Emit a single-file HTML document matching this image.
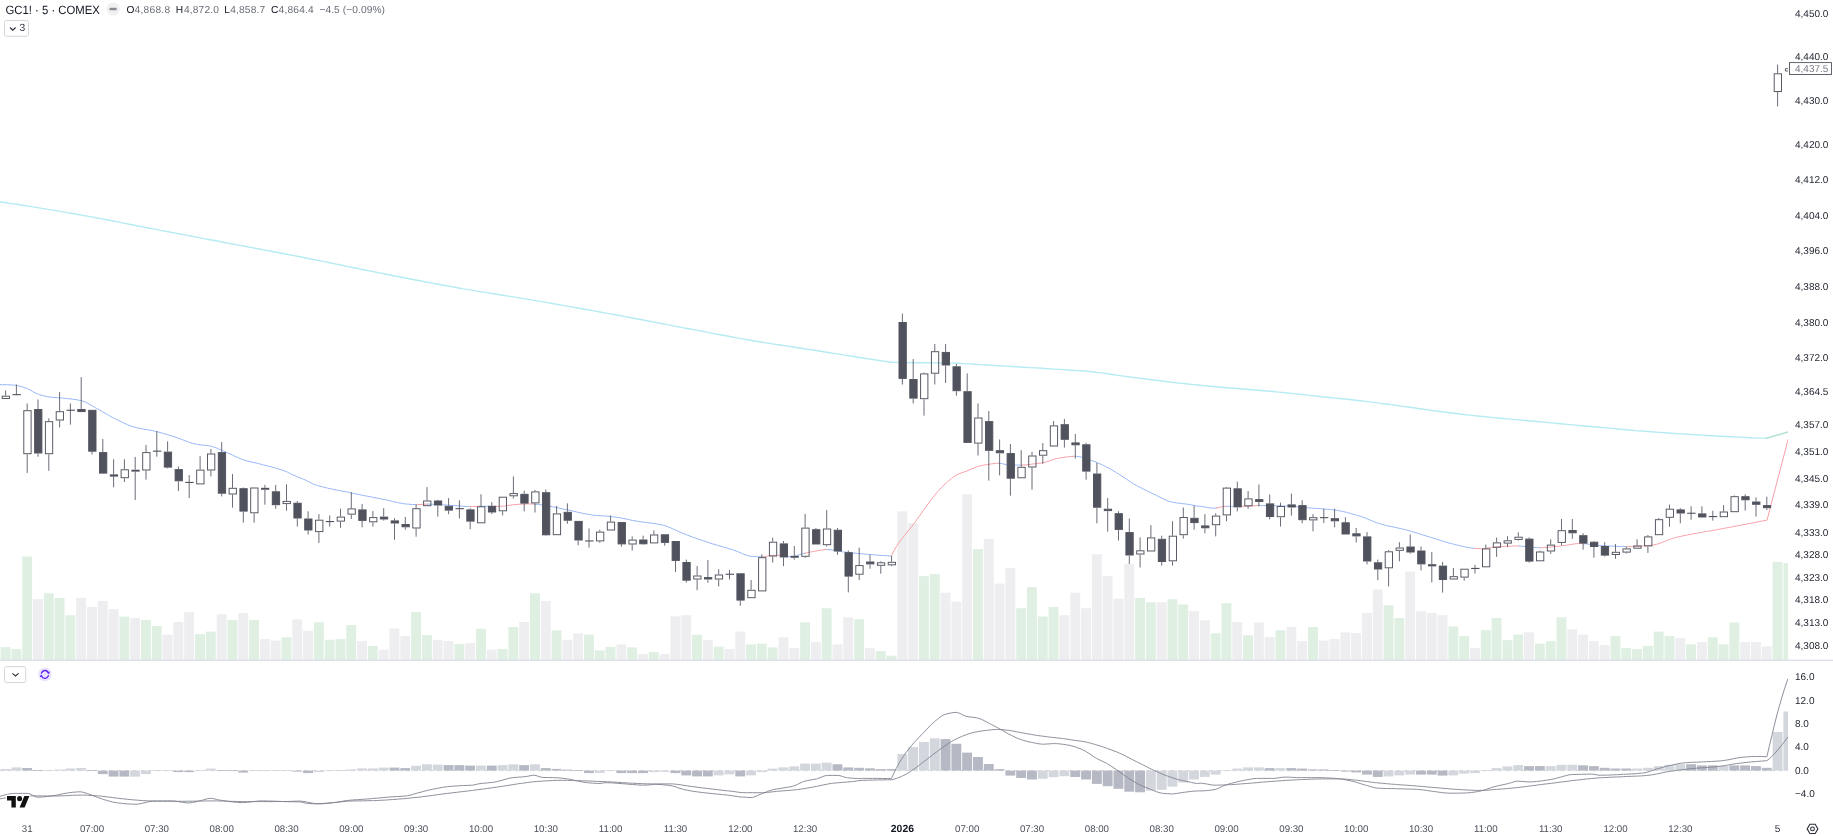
<!DOCTYPE html><html><head><meta charset="utf-8"><title>GC1! chart</title>
<style>
html,body{margin:0;padding:0;background:#fff;}
body{width:1833px;height:836px;overflow:hidden;position:relative;font-family:"Liberation Sans",sans-serif;}
svg{position:absolute;left:0;top:0;display:block;will-change:transform}
svg text{font-family:"Liberation Sans",sans-serif;text-rendering:geometricPrecision}
.w{stroke-width:0.85}
.ax{font-size:10px;fill:#1e222d}
.tm{font-size:9.7px;fill:#4c4f5a;text-anchor:middle}
</style></head><body>
<svg width="1833" height="836" viewBox="0 0 1833 836">
<defs><clipPath id="cp"><rect x="0" y="0" width="1788" height="660"/></clipPath><clipPath id="cp2"><rect x="0" y="661" width="1788" height="157"/></clipPath></defs>
<g clip-path="url(#cp)">
<rect x="0.6" y="647.1" width="9.9" height="12.9" fill="#dff0e3"/>
<rect x="11.4" y="649.1" width="9.9" height="10.9" fill="#dff0e3"/>
<rect x="22.2" y="556.5" width="9.9" height="103.5" fill="#dff0e3"/>
<rect x="33" y="599.2" width="9.9" height="60.8" fill="#eeeef1"/>
<rect x="43.8" y="593.2" width="9.9" height="66.8" fill="#dff0e3"/>
<rect x="54.6" y="597.9" width="9.9" height="62.1" fill="#dff0e3"/>
<rect x="65.4" y="615.2" width="9.9" height="44.8" fill="#dff0e3"/>
<rect x="76.2" y="597.9" width="9.9" height="62.1" fill="#eeeef1"/>
<rect x="87" y="607" width="9.9" height="53" fill="#eeeef1"/>
<rect x="97.8" y="600.9" width="9.9" height="59.1" fill="#eeeef1"/>
<rect x="108.6" y="609.2" width="9.9" height="50.8" fill="#eeeef1"/>
<rect x="119.4" y="616.5" width="9.9" height="43.5" fill="#dff0e3"/>
<rect x="130.2" y="618" width="9.9" height="42" fill="#eeeef1"/>
<rect x="141" y="620" width="9.9" height="40" fill="#dff0e3"/>
<rect x="151.8" y="626" width="9.9" height="34" fill="#dff0e3"/>
<rect x="162.6" y="634.6" width="9.9" height="25.4" fill="#eeeef1"/>
<rect x="173.4" y="622" width="9.9" height="38" fill="#eeeef1"/>
<rect x="184.2" y="612.2" width="9.9" height="47.8" fill="#eeeef1"/>
<rect x="195.1" y="634.1" width="9.9" height="25.9" fill="#dff0e3"/>
<rect x="205.9" y="631.6" width="9.9" height="28.4" fill="#dff0e3"/>
<rect x="216.7" y="614.2" width="9.9" height="45.8" fill="#eeeef1"/>
<rect x="227.5" y="620" width="9.9" height="40" fill="#dff0e3"/>
<rect x="238.3" y="613" width="9.9" height="47" fill="#eeeef1"/>
<rect x="249.1" y="620" width="9.9" height="40" fill="#dff0e3"/>
<rect x="259.9" y="639.1" width="9.9" height="20.9" fill="#eeeef1"/>
<rect x="270.7" y="640.6" width="9.9" height="19.4" fill="#eeeef1"/>
<rect x="281.5" y="637.3" width="9.9" height="22.7" fill="#dff0e3"/>
<rect x="292.3" y="619.5" width="9.9" height="40.5" fill="#eeeef1"/>
<rect x="303.1" y="630.8" width="9.9" height="29.2" fill="#eeeef1"/>
<rect x="313.9" y="622.3" width="9.9" height="37.7" fill="#dff0e3"/>
<rect x="324.7" y="639.8" width="9.9" height="20.2" fill="#dff0e3"/>
<rect x="335.5" y="639.1" width="9.9" height="20.9" fill="#dff0e3"/>
<rect x="346.3" y="625" width="9.9" height="35" fill="#dff0e3"/>
<rect x="357.1" y="641.1" width="9.9" height="18.9" fill="#eeeef1"/>
<rect x="367.9" y="645.9" width="9.9" height="14.1" fill="#dff0e3"/>
<rect x="378.7" y="649.6" width="9.9" height="10.4" fill="#eeeef1"/>
<rect x="389.5" y="628.5" width="9.9" height="31.5" fill="#eeeef1"/>
<rect x="400.3" y="636.1" width="9.9" height="23.9" fill="#eeeef1"/>
<rect x="411.1" y="612" width="9.9" height="48" fill="#dff0e3"/>
<rect x="422" y="635.1" width="9.9" height="24.9" fill="#dff0e3"/>
<rect x="432.8" y="639.8" width="9.9" height="20.2" fill="#eeeef1"/>
<rect x="443.6" y="641.1" width="9.9" height="18.9" fill="#eeeef1"/>
<rect x="454.4" y="644.1" width="9.9" height="15.9" fill="#dff0e3"/>
<rect x="465.2" y="643.1" width="9.9" height="16.9" fill="#eeeef1"/>
<rect x="476" y="628.8" width="9.9" height="31.2" fill="#dff0e3"/>
<rect x="486.8" y="649.6" width="9.9" height="10.4" fill="#eeeef1"/>
<rect x="497.6" y="649.1" width="9.9" height="10.9" fill="#dff0e3"/>
<rect x="508.4" y="627" width="9.9" height="33" fill="#dff0e3"/>
<rect x="519.2" y="622" width="9.9" height="38" fill="#eeeef1"/>
<rect x="530" y="593.2" width="9.9" height="66.8" fill="#dff0e3"/>
<rect x="540.8" y="600.9" width="9.9" height="59.1" fill="#eeeef1"/>
<rect x="551.6" y="630.3" width="9.9" height="29.7" fill="#dff0e3"/>
<rect x="562.4" y="639.8" width="9.9" height="20.2" fill="#eeeef1"/>
<rect x="573.2" y="633.3" width="9.9" height="26.7" fill="#eeeef1"/>
<rect x="584" y="634.6" width="9.9" height="25.4" fill="#dff0e3"/>
<rect x="594.8" y="650.4" width="9.9" height="9.6" fill="#dff0e3"/>
<rect x="605.6" y="646.9" width="9.9" height="13.1" fill="#dff0e3"/>
<rect x="616.4" y="644.4" width="9.9" height="15.6" fill="#eeeef1"/>
<rect x="627.2" y="647.4" width="9.9" height="12.6" fill="#dff0e3"/>
<rect x="638.1" y="654.1" width="9.9" height="5.9" fill="#eeeef1"/>
<rect x="648.9" y="652.1" width="9.9" height="7.9" fill="#dff0e3"/>
<rect x="659.7" y="654.1" width="9.9" height="5.9" fill="#eeeef1"/>
<rect x="670.5" y="616.3" width="9.9" height="43.7" fill="#eeeef1"/>
<rect x="681.3" y="615.2" width="9.9" height="44.8" fill="#eeeef1"/>
<rect x="692.1" y="634.8" width="9.9" height="25.2" fill="#dff0e3"/>
<rect x="702.9" y="640.1" width="9.9" height="19.9" fill="#eeeef1"/>
<rect x="713.7" y="646.6" width="9.9" height="13.4" fill="#dff0e3"/>
<rect x="724.5" y="648.9" width="9.9" height="11.1" fill="#eeeef1"/>
<rect x="735.3" y="631.6" width="9.9" height="28.4" fill="#eeeef1"/>
<rect x="746.1" y="644.4" width="9.9" height="15.6" fill="#dff0e3"/>
<rect x="756.9" y="643.6" width="9.9" height="16.4" fill="#dff0e3"/>
<rect x="767.7" y="647.4" width="9.9" height="12.6" fill="#dff0e3"/>
<rect x="778.5" y="637.3" width="9.9" height="22.7" fill="#eeeef1"/>
<rect x="789.3" y="648.1" width="9.9" height="11.9" fill="#eeeef1"/>
<rect x="800.1" y="622.3" width="9.9" height="37.7" fill="#dff0e3"/>
<rect x="810.9" y="642.1" width="9.9" height="17.9" fill="#eeeef1"/>
<rect x="821.7" y="608.2" width="9.9" height="51.8" fill="#dff0e3"/>
<rect x="832.5" y="644.4" width="9.9" height="15.6" fill="#eeeef1"/>
<rect x="843.3" y="617.3" width="9.9" height="42.7" fill="#eeeef1"/>
<rect x="854.2" y="619.3" width="9.9" height="40.7" fill="#dff0e3"/>
<rect x="865" y="648.1" width="9.9" height="11.9" fill="#eeeef1"/>
<rect x="875.8" y="651.1" width="9.9" height="8.9" fill="#dff0e3"/>
<rect x="886.6" y="655.7" width="9.9" height="4.3" fill="#dff0e3"/>
<rect x="897.4" y="511.3" width="9.9" height="148.7" fill="#eeeef1"/>
<rect x="908.2" y="523.3" width="9.9" height="136.7" fill="#eeeef1"/>
<rect x="919" y="576.1" width="9.9" height="83.9" fill="#dff0e3"/>
<rect x="929.8" y="574.1" width="9.9" height="85.9" fill="#dff0e3"/>
<rect x="940.6" y="592.7" width="9.9" height="67.3" fill="#eeeef1"/>
<rect x="951.4" y="601.7" width="9.9" height="58.3" fill="#eeeef1"/>
<rect x="962.2" y="494.3" width="9.9" height="165.7" fill="#eeeef1"/>
<rect x="973" y="549.1" width="9.9" height="110.9" fill="#dff0e3"/>
<rect x="983.8" y="539" width="9.9" height="121" fill="#eeeef1"/>
<rect x="994.6" y="583.6" width="9.9" height="76.4" fill="#eeeef1"/>
<rect x="1005.4" y="568.1" width="9.9" height="91.9" fill="#eeeef1"/>
<rect x="1016.2" y="608.2" width="9.9" height="51.8" fill="#dff0e3"/>
<rect x="1027" y="587.1" width="9.9" height="72.9" fill="#dff0e3"/>
<rect x="1037.8" y="616.5" width="9.9" height="43.5" fill="#dff0e3"/>
<rect x="1048.6" y="607" width="9.9" height="53" fill="#dff0e3"/>
<rect x="1059.4" y="615.2" width="9.9" height="44.8" fill="#eeeef1"/>
<rect x="1070.3" y="592.7" width="9.9" height="67.3" fill="#eeeef1"/>
<rect x="1081.1" y="608.2" width="9.9" height="51.8" fill="#eeeef1"/>
<rect x="1091.9" y="554.3" width="9.9" height="105.7" fill="#eeeef1"/>
<rect x="1102.7" y="576.1" width="9.9" height="83.9" fill="#eeeef1"/>
<rect x="1113.5" y="598.7" width="9.9" height="61.3" fill="#eeeef1"/>
<rect x="1124.3" y="564.1" width="9.9" height="95.9" fill="#eeeef1"/>
<rect x="1135.1" y="597.9" width="9.9" height="62.1" fill="#dff0e3"/>
<rect x="1145.9" y="602.2" width="9.9" height="57.8" fill="#dff0e3"/>
<rect x="1156.7" y="602.2" width="9.9" height="57.8" fill="#eeeef1"/>
<rect x="1167.5" y="599.2" width="9.9" height="60.8" fill="#dff0e3"/>
<rect x="1178.3" y="604.5" width="9.9" height="55.5" fill="#dff0e3"/>
<rect x="1189.1" y="611.2" width="9.9" height="48.8" fill="#eeeef1"/>
<rect x="1199.9" y="620.3" width="9.9" height="39.7" fill="#eeeef1"/>
<rect x="1210.7" y="633.3" width="9.9" height="26.7" fill="#dff0e3"/>
<rect x="1221.5" y="603.2" width="9.9" height="56.8" fill="#dff0e3"/>
<rect x="1232.3" y="622" width="9.9" height="38" fill="#eeeef1"/>
<rect x="1243.1" y="635.3" width="9.9" height="24.7" fill="#dff0e3"/>
<rect x="1253.9" y="622.5" width="9.9" height="37.5" fill="#eeeef1"/>
<rect x="1264.7" y="637.1" width="9.9" height="22.9" fill="#eeeef1"/>
<rect x="1275.5" y="630.3" width="9.9" height="29.7" fill="#dff0e3"/>
<rect x="1286.4" y="627" width="9.9" height="33" fill="#eeeef1"/>
<rect x="1297.2" y="641.1" width="9.9" height="18.9" fill="#eeeef1"/>
<rect x="1308" y="627" width="9.9" height="33" fill="#dff0e3"/>
<rect x="1318.8" y="640.6" width="9.9" height="19.4" fill="#eeeef1"/>
<rect x="1329.6" y="639.1" width="9.9" height="20.9" fill="#eeeef1"/>
<rect x="1340.4" y="632.3" width="9.9" height="27.7" fill="#eeeef1"/>
<rect x="1351.2" y="633.1" width="9.9" height="26.9" fill="#eeeef1"/>
<rect x="1362" y="613" width="9.9" height="47" fill="#eeeef1"/>
<rect x="1372.8" y="589.4" width="9.9" height="70.6" fill="#eeeef1"/>
<rect x="1383.6" y="605.2" width="9.9" height="54.8" fill="#dff0e3"/>
<rect x="1394.4" y="618" width="9.9" height="42" fill="#dff0e3"/>
<rect x="1405.2" y="571.6" width="9.9" height="88.4" fill="#eeeef1"/>
<rect x="1416" y="611.2" width="9.9" height="48.8" fill="#eeeef1"/>
<rect x="1426.8" y="613" width="9.9" height="47" fill="#eeeef1"/>
<rect x="1437.6" y="615.2" width="9.9" height="44.8" fill="#eeeef1"/>
<rect x="1448.4" y="626.3" width="9.9" height="33.7" fill="#dff0e3"/>
<rect x="1459.2" y="636.1" width="9.9" height="23.9" fill="#dff0e3"/>
<rect x="1470" y="648.1" width="9.9" height="11.9" fill="#eeeef1"/>
<rect x="1480.8" y="630.1" width="9.9" height="29.9" fill="#dff0e3"/>
<rect x="1491.6" y="618" width="9.9" height="42" fill="#dff0e3"/>
<rect x="1502.5" y="640.1" width="9.9" height="19.9" fill="#dff0e3"/>
<rect x="1513.3" y="634.6" width="9.9" height="25.4" fill="#dff0e3"/>
<rect x="1524.1" y="632.3" width="9.9" height="27.7" fill="#eeeef1"/>
<rect x="1534.9" y="643.6" width="9.9" height="16.4" fill="#dff0e3"/>
<rect x="1545.7" y="641.1" width="9.9" height="18.9" fill="#dff0e3"/>
<rect x="1556.5" y="617.3" width="9.9" height="42.7" fill="#dff0e3"/>
<rect x="1567.3" y="629.3" width="9.9" height="30.7" fill="#eeeef1"/>
<rect x="1578.1" y="634.6" width="9.9" height="25.4" fill="#eeeef1"/>
<rect x="1588.9" y="641.1" width="9.9" height="18.9" fill="#eeeef1"/>
<rect x="1599.7" y="645.1" width="9.9" height="14.9" fill="#eeeef1"/>
<rect x="1610.5" y="636.1" width="9.9" height="23.9" fill="#dff0e3"/>
<rect x="1621.3" y="648.1" width="9.9" height="11.9" fill="#dff0e3"/>
<rect x="1632.1" y="649.1" width="9.9" height="10.9" fill="#dff0e3"/>
<rect x="1642.9" y="645.9" width="9.9" height="14.1" fill="#dff0e3"/>
<rect x="1653.7" y="631.6" width="9.9" height="28.4" fill="#dff0e3"/>
<rect x="1664.5" y="636.1" width="9.9" height="23.9" fill="#dff0e3"/>
<rect x="1675.3" y="638.1" width="9.9" height="21.9" fill="#eeeef1"/>
<rect x="1686.1" y="644.4" width="9.9" height="15.6" fill="#dff0e3"/>
<rect x="1696.9" y="642.1" width="9.9" height="17.9" fill="#eeeef1"/>
<rect x="1707.8" y="637.3" width="9.9" height="22.7" fill="#dff0e3"/>
<rect x="1718.6" y="644.4" width="9.9" height="15.6" fill="#dff0e3"/>
<rect x="1729.4" y="622.5" width="9.9" height="37.5" fill="#dff0e3"/>
<rect x="1740.2" y="642.1" width="9.9" height="17.9" fill="#eeeef1"/>
<rect x="1751" y="642.1" width="9.9" height="17.9" fill="#eeeef1"/>
<rect x="1761.8" y="646.4" width="9.9" height="13.6" fill="#eeeef1"/>
<rect x="1772.6" y="561.8" width="9.9" height="98.2" fill="#dff0e3"/>
<rect x="1783.4" y="563" width="9.9" height="97" fill="#dff0e3"/>
</g>
<g clip-path="url(#cp)" fill="none" stroke-linejoin="round" stroke-linecap="round">
<polyline stroke="#b6ebf3" stroke-width="1.45" points="0,201.8 6,202.7 12,203.6 18,204.5 24,205.5 30,206.4 36,207.4 42,208.4 48,209.4 54,210.4 60,211.4 66,212.4 72,213.5 78,214.5 84,215.6 85.3,215.8 90,216.6 96,217.8 102,218.9 108,220 114,221.2 120,222.4 126,223.6 132,224.8 138,226 144,227.1 150,228.3 150.6,228.4 156,229.4 162,230.6 168,231.7 174,232.9 180,234 186,235.1 192,236.3 198,237.4 204,238.6 210,239.7 216,240.8 222,242 225.8,242.7 228,243.1 234,244.3 240,245.4 246,246.5 252,247.6 258,248.8 264,249.9 270,251 276,252.2 282,253.3 288,254.5 294,255.6 300,256.8 301.1,257 306,258 312,259.2 318,260.4 324,261.6 330,262.8 336,264.1 342,265.3 348,266.6 354,267.8 360,269 366,270.2 372,271.4 376.4,272.3 378,272.6 384,273.8 390,275 396,276.2 402,277.3 408,278.5 414,279.7 420,280.8 426,282 432,283.1 438,284.2 444,285.3 450,286.4 456,287.5 460,288.2 462,288.6 468,289.6 474,290.6 480,291.6 486,292.6 492,293.5 498,294.5 504,295.5 510,296.4 516,297.4 522,298.4 528,299.4 534,300.4 535.3,300.6 540,301.4 546,302.4 552,303.5 558,304.5 564,305.6 570,306.6 576,307.7 582,308.7 588,309.8 594,310.9 600,312 606,313.1 610.6,313.9 612,314.2 618,315.3 624,316.4 630,317.5 636,318.7 642,319.8 648,321 654,322.1 660,323.3 666,324.4 672,325.6 678,326.7 684,327.9 685.8,328.2 690,329 696,330.1 702,331.3 708,332.4 714,333.6 720,334.7 726,335.8 732,337 738,338.1 744,339.1 750,340.2 753.6,340.8 756,341.2 762,342.2 768,343.1 774,344.1 780,345 786,345.9 792,346.8 798,347.7 804,348.7 810,349.6 811.3,349.8 816,350.5 822,351.5 828,352.5 834,353.4 840,354.4 846,355.4 852,356.3 858,357.3 861.5,357.8 864,358.2 870,359.1 876,360 882,360.9 888,361.8 891.6,362.3 897.6,362.4 903.6,362.5 907.5,362.6 909.6,362.6 915.6,362.7 921.6,362.8 927.6,362.8 933.6,362.9 939.6,362.9 945.6,363 950.2,363.1 951.6,363.1 957.6,363.3 963.6,363.6 969.6,363.9 975.6,364.2 981.6,364.6 987.6,365 993.6,365.4 999.6,365.8 1000.4,365.8 1005.6,366.1 1011.6,366.5 1017.6,366.8 1023.6,367.2 1029.6,367.6 1035.6,367.9 1041.6,368.3 1047.6,368.7 1050.6,368.9 1053.6,369.1 1059.6,369.4 1065.6,369.8 1071.6,370.2 1077.6,370.6 1083.6,371 1088.2,371.4 1089.6,371.5 1095.6,372.2 1101.6,372.9 1107.6,373.8 1113.6,374.7 1119.6,375.6 1125.6,376.4 1125.8,376.4 1131.6,377.2 1137.6,377.9 1143.6,378.7 1149.6,379.5 1155.6,380.3 1161.6,381 1167.6,381.7 1173.6,382.4 1176,382.7 1179.6,383.1 1185.6,383.7 1191.6,384.4 1197.6,385 1203.6,385.6 1209.6,386.2 1215.6,386.7 1221.6,387.3 1226.2,387.7 1227.6,387.8 1233.6,388.3 1239.6,388.8 1245.6,389.3 1251.6,389.8 1257.6,390.3 1263.6,390.8 1269.6,391.3 1275.6,391.8 1276.4,391.9 1281.6,392.4 1287.6,393 1293.6,393.6 1299.6,394.3 1305.6,394.9 1311.6,395.6 1317.6,396.2 1323.6,396.9 1326.6,397.2 1329.6,397.5 1335.6,398.1 1341.6,398.7 1347.6,399.3 1353.6,400 1359.6,400.7 1360,400.7 1365.6,401.4 1371.6,402.1 1377.6,402.9 1383.6,403.7 1389.6,404.5 1390.2,404.6 1395.6,405.3 1401.6,406.1 1407.6,407 1413.6,407.8 1419.6,408.7 1425.6,409.5 1431.6,410.4 1437.6,411.2 1443.6,412 1449.6,412.8 1455.6,413.5 1461.6,414.3 1465.5,414.7 1467.6,414.9 1473.6,415.6 1479.6,416.2 1485.6,416.8 1491.6,417.4 1497.6,418 1503.6,418.5 1509.6,419.1 1515.6,419.6 1521.6,420.1 1527.6,420.7 1533.6,421.2 1539.6,421.8 1540.8,421.9 1545.6,422.3 1551.6,422.9 1557.6,423.5 1563.6,424 1569.6,424.6 1575.6,425.1 1581.6,425.7 1587.6,426.2 1590.9,426.5 1593.6,426.7 1599.6,427.3 1605.6,427.9 1611.6,428.4 1617.6,429 1623.6,429.5 1629.6,430 1635.6,430.6 1641.1,431 1641.6,431 1647.6,431.5 1653.6,432 1659.6,432.4 1665.6,432.8 1671.6,433.2 1677.6,433.6 1683.6,434 1689.6,434.4 1691.3,434.5 1695.6,434.8 1701.6,435.1 1707.6,435.5 1713.6,435.8 1719.6,436.2 1725.6,436.5 1731.6,436.8 1737.6,437.1 1741.5,437.3 1743.6,437.4 1749.6,437.7 1755.6,437.9 1761.6,438.1 1766.6,438.3"/>
<polyline stroke="#b3e0d4" stroke-width="1.45" points="1766.6,438.3 1788,432"/>
<polyline stroke="#98b7f7" stroke-width="1" points="0,384.6 2.5,384.7 5,384.7 7.5,384.8 10,384.9 12.5,385 14.4,385.1 15,385.2 17.5,385.5 20,386.2 22.5,386.9 25,387.8 26.3,388.2 27.5,388.7 30,389.9 32.5,391.4 35,392.8 37.5,393.9 38.3,394.2 40,394.8 42.5,395.5 45,396.1 47.5,396.7 50,397.1 50.2,397.1 52.5,397.3 55,397.5 57.5,397.7 60,397.9 62.5,398.1 64.6,398.3 65,398.3 67.5,398.6 70,398.9 72.5,399.2 75,399.5 77.5,399.9 80,400.4 81.3,400.7 82.5,401 85,401.9 87.5,403.2 90,404.6 92.5,406 95,407.5 95.7,407.9 97.5,408.8 100,410.2 102.5,411.7 105,413.2 107.5,414.6 110,416.1 112.5,417.4 114.8,418.6 115,418.7 117.5,419.9 120,421.2 122.5,422.4 125,423.6 127.5,424.7 130,425.7 132.5,426.6 134,427 135,427.3 137.5,427.9 140,428.4 142.5,428.9 145,429.3 147.5,429.7 150,430.2 152.5,430.6 155,431.2 155.5,431.3 157.5,431.8 160,432.5 162.5,433.2 165,433.9 167.5,434.7 170,435.5 172.5,436.3 175,437.1 177,437.7 177.5,437.9 180,438.8 182.5,439.7 185,440.7 187.5,441.6 190,442.5 192.5,443.3 195,444 196.2,444.2 197.5,444.4 200,444.8 202.5,445.1 205,445.3 207.5,445.6 210,446 210.5,446.1 212.5,446.6 215,447.4 217.5,448.4 220,449.5 222.5,450.6 224.9,451.6 225,451.7 227.5,452.8 230,453.9 232.5,455.1 235,456.3 237.5,457.4 240,458.5 242.5,459.5 244,460 245,460.3 247.5,461 250,461.7 252.5,462.3 255,462.8 257.5,463.4 260,464 262.5,464.6 263.2,464.8 265,465.3 267.5,465.9 270,466.6 272.5,467.2 275,467.9 277.5,468.6 280,469.4 282.5,470.2 285,471.1 287.1,472 287.5,472.1 290,473.5 292.5,474.7 295,475.7 297.5,476.8 300,477.8 302.5,478.8 305,479.9 306,480.3 307.5,481.1 310,482.4 312.5,483.7 313.9,484.3 315,484.6 317.5,485.4 320,486.2 322.5,486.8 325,487.5 327.5,488.1 330,488.6 332.5,489.2 335,489.7 337.5,490.2 340,490.7 342.5,491.1 345,491.6 347.5,492.1 349.8,492.6 350,492.7 352.5,493.2 355,493.7 357.5,494.2 360,494.8 362.5,495.3 365,495.8 367.5,496.2 370,496.7 372.5,497.2 375,497.7 377.5,498.2 380,498.7 382.5,499.2 385,499.7 385.7,499.8 387.5,500.2 390,500.8 392.5,501.4 395,502 397.5,502.5 400,503.1 402.5,503.5 405,503.9 407.2,504.1 407.5,504.1 410,504.3 412.5,504.5 415,504.6 416.8,504.6"/>
<polyline stroke="#f6a0a6" stroke-width="1" points="416.8,504.6 417.5,504.6 420,504.5 422.5,504.3 425,504.2 427.5,504.1"/>
<polyline stroke="#98b7f7" stroke-width="1" points="427.5,504.1 427.6,504.1 430,504.2 432.5,504.3 435,504.4 437.5,504.6 438.3,504.6 440,504.7 442.5,504.8 445,505 447.5,505.1 450,505.3 452.5,505.5 455,505.6 457.5,505.8 460,506 462.5,506.2 465,506.4 467.5,506.5 469.4,506.5 470,506.5"/>
<polyline stroke="#f6a0a6" stroke-width="1" points="470,506.5 472.5,506.5 475,506.4 477.5,506.4 480,506.3"/>
<polyline stroke="#98b7f7" stroke-width="1" points="480,506.3 482.5,506.3 483.8,506.3 485,506.3 487.5,506.3 490,506.3 492.5,506.3"/>
<polyline stroke="#f6a0a6" stroke-width="1" points="492.5,506.3 495,506.3 497.5,506.3 500,506.3 500.5,506.3 502.5,506.2 505,506 507.5,505.6 510,505.2 512.5,504.8 514.9,504.6 515,504.6 517.5,504.4 520,504.2 522.5,504.1 525,504 527.5,503.9 529.2,503.9 530,503.9 532.5,504 535,504.2"/>
<polyline stroke="#98b7f7" stroke-width="1" points="535,504.2 537.5,504.5 538.8,504.6 540,504.7 542.5,505 545,505.4 547.5,505.8 550,506.3 552.5,506.8 555,507.3 557.5,507.8 560,508.3 562.5,508.9 565,509.4 565.1,509.4 567.5,509.9 570,510.4 572.5,511 575,511.6 577.5,512.2 580,512.7 582.5,513.3 585,513.8 587.5,514.2 590,514.6 592.5,515 595,515.3 596,515.4 597.5,515.5 600,515.7 602.5,515.9 605,516 607.5,516.2 610,516.4 611.5,516.6 612.5,516.7 615,517 617.5,517.4 620,517.8 622.5,518.3 625,518.8 627.5,519.3 630,519.9 632.5,520.4 635,520.8 637.5,521.3 637.8,521.3 640,521.7 642.5,522 645,522.4 647.5,522.7 650,523 652.5,523.3 655,523.7 657.5,524.1 660,524.6 661.8,524.9 662.5,525.1 665,525.8 667.5,526.6 670,527.6 672.5,528.7 675,529.8 677.5,531 680,532.1 682.5,533.2 685,534.2 685.7,534.5 687.5,535.2 690,536.1 692.5,537 695,537.9 697.5,538.8 700,539.7 702.5,540.5 705,541.4 707.5,542.2 709.6,542.9 710,543 712.5,543.8 715,544.5 717.5,545.3 720,546 722.5,546.7 725,547.5 727.5,548.2 730,549 732.5,549.7 733.5,550 735,550.6 737.5,551.5 740,552.6 742.5,553.7 745,554.7 747.5,555.6 750,556.2 752.5,556.5 752.7,556.5 755,556.6 757.5,556.7 760,556.7 762.3,556.8"/>
<polyline stroke="#f6a0a6" stroke-width="1" points="762.3,556.8 762.5,556.8 765,556.5 767.5,556.1 770,555.7 771.8,555.6 772.5,555.5 775,555.4 777.5,555.3 779,555.3 780,555.3 782.5,555.6"/>
<polyline stroke="#98b7f7" stroke-width="1" points="782.5,555.6 785,556 787.5,556.5 790,556.7 791,556.8 792.5,556.7 795,556.1 797.5,555.4 800,554.5 802.5,553.7 802.9,553.7 805,553.2"/>
<polyline stroke="#f6a0a6" stroke-width="1" points="805,553.2 807.5,552.6 810,552.1 812.5,551.7 814.9,551.3 815,551.2 817.5,550.8 820,550.3 822.5,549.9 825,549.6 826.9,549.6"/>
<polyline stroke="#98b7f7" stroke-width="1" points="826.9,549.6 827.5,549.6 830,549.7 832.5,550.1 835,550.5 837.5,551 840,551.4 842.5,551.8 843.6,552 845,552.1 847.5,552.4 850,552.7 852.5,552.9 855,553.2 857.5,553.4 860,553.7 862.5,553.9 865,554.1 865.1,554.1 867.5,554.3 870,554.5 872.5,554.7 875,554.9 877.5,555.1 880,555.3 882.5,555.5 885,555.6 887.5,555.8 890,556 891.4,556"/>
<polyline stroke="#f6a0a6" stroke-width="1" points="891.4,556 893.9,551 896.4,546.5 897.2,545.2 898.9,542.7 901.4,539.4 903.9,536.3 904.4,535.6 906.4,533.1 908.9,530 911.4,527 913.9,523.8 916.4,520.4 918.9,516.8 921.4,513.3 923.9,509.7 925.9,507 926.4,506.3 928.9,502.9 931.4,499.5 933.9,496.2 936.4,493.1 937.8,491.5 938.9,490.3 941.4,487.6 943.9,485.1 946.4,482.8 947.4,481.9 948.9,480.6 951.4,478.5 953.9,476.6 956.4,475 957,474.7 958.9,473.8 961.4,472.9 963.9,472 966.4,471.2 966.6,471.1 968.9,470.1 971.4,469 973.9,467.9 976.4,467 978.5,466.3 978.9,466.2 981.4,465.6 983.9,465.1 986.4,464.7 988.1,464.4 988.9,464.3 991.4,463.9 993.9,463.6 996.4,463.3 998.9,463.2"/>
<polyline stroke="#98b7f7" stroke-width="1" points="998.9,463.2 1001.4,463.5 1003.9,464.1 1006.4,464.7 1008.9,465.1 1009.6,465.1 1011.4,465.1 1013.9,465.1 1016.4,465.1 1018.9,465.1 1020.4,465.1 1021.4,465.1"/>
<polyline stroke="#f6a0a6" stroke-width="1" points="1021.4,465.1 1023.9,465 1026.4,464.8 1028.9,464.5 1031.4,464.2 1033.5,463.9 1033.9,463.9 1036.4,463.6 1038.9,463.3 1041.4,463 1043.1,462.7 1043.9,462.6 1046.4,461.9 1048.9,461.1 1051.4,460.2 1053.9,459.3 1056.4,458.6 1057.5,458.4 1058.9,458.2 1061.4,457.7 1063.9,457.3 1066.4,457 1068.9,456.7 1071.4,456.4 1073.9,456.3 1075.4,456.3"/>
<polyline stroke="#98b7f7" stroke-width="1" points="1075.4,456.3 1076.4,456.3 1078.9,456.6 1081.4,457.2 1083.9,457.9 1086.4,458.8 1088.9,459.6 1091,460.3 1091.4,460.5 1093.9,461.3 1096.4,462.3 1098.9,463.4 1101.4,464.5 1103.9,465.6 1105.3,466.3 1106.4,466.9 1108.9,468.2 1111.4,469.6 1113.9,471.1 1116.4,472.7 1118.9,474.2 1119.7,474.7 1121.4,475.8 1123.9,477.4 1126.4,479.1 1128.9,480.7 1131.4,482.4 1133.9,484 1136.4,485.4 1138.9,486.8 1141.4,488.1 1143.9,489.4 1146.4,490.6 1148.9,491.8 1151.4,493 1153.2,493.8 1153.9,494.2 1156.4,495.4 1158.9,496.7 1161.4,498 1163.9,499.2 1166.4,500.3 1168.9,501.3 1171.4,502 1172.3,502.2 1173.9,502.5 1176.4,502.9 1178.9,503.2 1181.4,503.5 1183.9,503.8 1186.4,504.1 1188.9,504.4 1190,504.6 1191.4,504.9 1193.9,505.4 1196,505.8 1196.4,505.9 1198.9,506.2 1201.4,506.4 1202,506.5 1203.9,506.8 1206.4,507.3 1208.9,507.7 1211.4,508 1213.9,508.2 1216.4,508"/>
<polyline stroke="#f6a0a6" stroke-width="1" points="1216.4,508 1218.9,507.5 1221.4,506.9 1223.9,506.4 1225.9,506.3 1226.4,506.3"/>
<polyline stroke="#98b7f7" stroke-width="1" points="1226.4,506.3 1228.9,506.3 1231.4,506.3 1233.9,506.3 1236.4,506.3"/>
<polyline stroke="#f6a0a6" stroke-width="1" points="1236.4,506.3 1238.9,506.3 1241.4,506.3 1242.6,506.3 1243.9,506.3 1246.4,506.2 1248.9,506.1 1251.4,506 1253.9,505.8 1256.4,505.7 1258.9,505.6"/>
<polyline stroke="#98b7f7" stroke-width="1" points="1258.9,505.6 1261.4,505.6 1261.8,505.6 1263.9,505.6 1266.4,505.6 1268.9,505.6 1271.4,505.7 1273.9,505.7 1276.4,505.8 1278.9,505.8 1281.4,505.9 1283.9,506 1285.7,506 1286.4,506.1 1288.9,506.2 1291.4,506.3 1293.9,506.5 1296.4,506.7 1298.9,507 1301.4,507.2 1303.9,507.4 1306.4,507.7 1308.9,507.9 1309.6,507.9 1311.4,508.1 1313.9,508.3 1316.4,508.4 1318.9,508.6 1321.4,508.8 1323.9,509 1326.4,509.2 1328.9,509.4 1331.4,509.6 1333.5,509.9 1333.9,509.9 1336.4,510.3 1338.9,510.7 1341.4,511.2 1343.9,511.7 1346.4,512.3 1348.9,513 1351.4,513.7 1353.9,514.4 1356.4,515.1 1357.5,515.4 1358.9,515.8 1361.4,516.6 1363.9,517.6 1366.4,518.5 1368.9,519.6 1371.4,520.6 1373.9,521.6 1376.4,522.6 1378.9,523.4 1381.4,524.2 1383.9,524.9 1386.4,525.5 1388.9,526.1 1391.4,526.6 1393.9,527.1 1396.4,527.7 1398.9,528.2 1401.4,528.8 1403.9,529.4 1405.3,529.7 1406.4,530 1408.9,530.7 1411.4,531.4 1413.9,532.2 1416.4,532.9 1418.9,533.7 1421.4,534.5 1423.9,535.3 1426.4,536 1428.9,536.8 1429.2,536.9 1431.4,537.6 1433.9,538.3 1436.4,539.1 1438.9,539.9 1441.4,540.7 1443.9,541.5 1446.4,542.3 1448.9,543 1451.4,543.6 1453.2,544.1 1453.9,544.2 1456.4,544.9 1458.9,545.5 1461.4,546.1 1463.9,546.7 1466.4,547.2 1468.9,547.6 1471.4,548 1473.9,548.3 1474.7,548.4"/>
<polyline stroke="#f6a0a6" stroke-width="1" points="1474.7,548.4 1476.4,548.5 1478.9,548.7 1481.4,548.8 1483.9,548.9 1484,548.9 1486.4,548.2 1486.7,548.1 1488.9,547.9 1491.4,547.6 1493.9,547.3 1496.4,547 1498.9,546.8 1501.4,546.6 1503.9,546.4 1506.4,546.3 1508.9,546.2 1511.4,546.1 1513.9,546 1516.4,546 1517.5,546 1518.9,546"/>
<polyline stroke="#98b7f7" stroke-width="1" points="1518.9,546 1521.4,546.2 1523.9,546.4 1526.4,546.7 1528.9,546.9 1529.5,546.9 1531.4,547.1 1533.9,547.3 1536.4,547.5 1538.9,547.6 1540.2,547.7"/>
<polyline stroke="#f6a0a6" stroke-width="1" points="1540.2,547.7 1541.4,547.7 1543.9,547.6 1546.4,547.4 1548.9,547.2 1551.4,547 1553.9,546.7 1556.4,546.4 1558.9,546.2 1560.6,546 1561.4,545.9 1563.9,545.6 1566.4,545.2 1568.9,544.8 1571.4,544.4 1573.9,544 1576.4,543.7 1578.9,543.6 1579.7,543.6 1581.4,543.6 1583.9,543.7"/>
<polyline stroke="#98b7f7" stroke-width="1" points="1583.9,543.7 1586.4,543.9 1588.9,544.2 1591.4,544.5 1593.9,544.8 1596.4,545.1 1598.9,545.4 1601.4,545.6 1603.6,545.7 1603.9,545.8 1606.4,545.9 1608.9,546 1611.4,546.1 1613.9,546.2 1616.4,546.3 1618.9,546.4 1621.4,546.4 1623.9,546.5 1625.2,546.5 1626.4,546.5"/>
<polyline stroke="#f6a0a6" stroke-width="1" points="1626.4,546.5 1628.9,546.4 1631.4,546.4 1633.9,546.3 1636.4,546.2 1638.9,546.1 1641.4,546 1643.9,545.8 1646.4,545.7 1648.9,545.5 1651.4,545.3 1651.5,545.3 1653.9,544.9 1656.4,544.4 1658.9,543.6 1661.4,542.7 1663.9,541.7 1666.4,540.7 1668.9,539.7 1671.4,538.8 1673.9,538 1675.4,537.6 1676.4,537.4 1678.9,536.8 1681.4,536.2 1683.9,535.7 1686.4,535.2 1688.9,534.7 1691.4,534.2 1693.9,533.7 1696.4,533.3 1698.9,532.8 1701.4,532.4 1703.9,531.9 1706.4,531.5 1708.9,531.1 1711.4,530.7 1713.9,530.2 1716.4,529.8 1718.9,529.3 1721.4,528.9 1723.2,528.5 1723.9,528.4 1726.4,527.9 1728.9,527.4 1731.4,527 1733.9,526.5 1736.4,526 1738.9,525.5 1741.4,525.1 1743.9,524.6 1746.4,524.1 1748.9,523.6 1751.4,523.1 1753.9,522.7 1756.4,522.2 1758.9,521.7 1761.4,521.2 1763.9,520.7 1766.4,520.3 1767,520.2 1788.1,439.5"/>
</g>
<g clip-path="url(#cp)" stroke="#50535e" stroke-width="0.95">
<line class="w" x1="5.6" y1="390.4" x2="5.6" y2="395.7"/>
<rect x="2.2" y="396.2" width="7.3" height="2.3" fill="none"/>
<line class="w" x1="16.4" y1="384.6" x2="16.4" y2="395.2"/>
<rect x="12.5" y="394.1" width="8.4" height="1.1" fill="#50535e" stroke="none"/>
<line class="w" x1="27.2" y1="403.5" x2="27.2" y2="410.2"/>
<line class="w" x1="27.2" y1="454.3" x2="27.2" y2="472.9"/>
<rect x="23.8" y="410.7" width="7.3" height="43" fill="none"/>
<line class="w" x1="38" y1="399.5" x2="38" y2="409"/>
<line class="w" x1="38" y1="453.5" x2="38" y2="456.7"/>
<rect x="34.6" y="409.5" width="7.3" height="43.5" fill="#50535e"/>
<line class="w" x1="48.8" y1="418.4" x2="48.8" y2="421.2"/>
<line class="w" x1="48.8" y1="454.3" x2="48.8" y2="470.8"/>
<rect x="45.4" y="421.7" width="7.3" height="32" fill="none"/>
<line class="w" x1="59.6" y1="392.1" x2="59.6" y2="411.2"/>
<line class="w" x1="59.6" y1="420.5" x2="59.6" y2="427.5"/>
<rect x="56.2" y="411.7" width="7.3" height="8.3" fill="none"/>
<line class="w" x1="70.4" y1="403.5" x2="70.4" y2="424.6"/>
<rect x="66.5" y="409.7" width="8.4" height="1.1" fill="#50535e" stroke="none"/>
<line class="w" x1="81.2" y1="377.2" x2="81.2" y2="409"/>
<rect x="77.8" y="409.5" width="7.3" height="2.1" fill="#50535e"/>
<line class="w" x1="92" y1="451.6" x2="92" y2="454.5"/>
<rect x="88.7" y="410.3" width="7.3" height="40.9" fill="#50535e"/>
<line class="w" x1="102.8" y1="439" x2="102.8" y2="452.1"/>
<rect x="99.5" y="452.6" width="7.3" height="20.5" fill="#50535e"/>
<line class="w" x1="113.6" y1="459.3" x2="113.6" y2="474.4"/>
<line class="w" x1="113.6" y1="476.5" x2="113.6" y2="487.3"/>
<rect x="110.3" y="474.9" width="7.3" height="1.2" fill="#50535e"/>
<line class="w" x1="124.4" y1="459.3" x2="124.4" y2="469.3"/>
<line class="w" x1="124.4" y1="478.2" x2="124.4" y2="482"/>
<rect x="121.1" y="469.8" width="7.3" height="7.9" fill="none"/>
<line class="w" x1="135.2" y1="456.9" x2="135.2" y2="469.7"/>
<line class="w" x1="135.2" y1="471.6" x2="135.2" y2="500"/>
<rect x="131.9" y="470.2" width="7.3" height="0.9" fill="#50535e"/>
<line class="w" x1="146" y1="444.9" x2="146" y2="452.1"/>
<line class="w" x1="146" y1="470.5" x2="146" y2="479.6"/>
<rect x="142.7" y="452.6" width="7.3" height="17.4" fill="none"/>
<line class="w" x1="156.8" y1="431.1" x2="156.8" y2="456.7"/>
<rect x="152.9" y="450.6" width="8.4" height="1.1" fill="#50535e" stroke="none"/>
<line class="w" x1="167.6" y1="441.3" x2="167.6" y2="451.6"/>
<line class="w" x1="167.6" y1="467.7" x2="167.6" y2="468.4"/>
<rect x="164.3" y="452.1" width="7.3" height="15" fill="#50535e"/>
<line class="w" x1="178.4" y1="466.5" x2="178.4" y2="469.1"/>
<line class="w" x1="178.4" y1="481.3" x2="178.4" y2="491.1"/>
<rect x="175.1" y="469.6" width="7.3" height="11.2" fill="#50535e"/>
<line class="w" x1="189.2" y1="475.1" x2="189.2" y2="498"/>
<rect x="185.3" y="481.9" width="8.4" height="1.1" fill="#50535e" stroke="none"/>
<line class="w" x1="200.1" y1="456.2" x2="200.1" y2="469.6"/>
<rect x="196.7" y="470.1" width="7.3" height="13.8" fill="none"/>
<line class="w" x1="210.9" y1="449" x2="210.9" y2="453.5"/>
<line class="w" x1="210.9" y1="470.5" x2="210.9" y2="476.3"/>
<rect x="207.5" y="454" width="7.3" height="16" fill="none"/>
<line class="w" x1="221.7" y1="442.1" x2="221.7" y2="452.1"/>
<line class="w" x1="221.7" y1="493.7" x2="221.7" y2="496.4"/>
<rect x="218.3" y="452.6" width="7.3" height="40.6" fill="#50535e"/>
<line class="w" x1="232.5" y1="474.1" x2="232.5" y2="487.8"/>
<line class="w" x1="232.5" y1="494.5" x2="232.5" y2="507.6"/>
<rect x="229.1" y="488.3" width="7.3" height="5.7" fill="none"/>
<line class="w" x1="243.3" y1="487.5" x2="243.3" y2="488.2"/>
<line class="w" x1="243.3" y1="511.7" x2="243.3" y2="522.7"/>
<rect x="239.9" y="488.7" width="7.3" height="22.4" fill="#50535e"/>
<line class="w" x1="254.1" y1="513.4" x2="254.1" y2="522.7"/>
<rect x="250.7" y="488" width="7.3" height="24.8" fill="none"/>
<line class="w" x1="264.9" y1="484.9" x2="264.9" y2="487.8"/>
<line class="w" x1="264.9" y1="489.7" x2="264.9" y2="504.7"/>
<rect x="261.5" y="488.3" width="7.3" height="0.9" fill="#50535e"/>
<line class="w" x1="275.7" y1="484.9" x2="275.7" y2="491.3"/>
<line class="w" x1="275.7" y1="505.2" x2="275.7" y2="508.8"/>
<rect x="272.3" y="491.8" width="7.3" height="12.9" fill="#50535e"/>
<line class="w" x1="286.5" y1="484.4" x2="286.5" y2="500.9"/>
<line class="w" x1="286.5" y1="504.1" x2="286.5" y2="510.7"/>
<rect x="283.1" y="501.4" width="7.3" height="2.2" fill="none"/>
<line class="w" x1="297.3" y1="501" x2="297.3" y2="502.7"/>
<line class="w" x1="297.3" y1="518.5" x2="297.3" y2="526.6"/>
<rect x="293.9" y="503.2" width="7.3" height="14.8" fill="#50535e"/>
<line class="w" x1="308.1" y1="511.3" x2="308.1" y2="518.5"/>
<line class="w" x1="308.1" y1="530.4" x2="308.1" y2="534.5"/>
<rect x="304.7" y="519" width="7.3" height="11" fill="#50535e"/>
<line class="w" x1="318.9" y1="514.2" x2="318.9" y2="519.7"/>
<line class="w" x1="318.9" y1="532.1" x2="318.9" y2="542.9"/>
<rect x="315.6" y="520.2" width="7.3" height="11.4" fill="none"/>
<line class="w" x1="329.7" y1="515.4" x2="329.7" y2="526.6"/>
<rect x="325.8" y="521" width="8.4" height="1.1" fill="#50535e" stroke="none"/>
<line class="w" x1="340.5" y1="508.7" x2="340.5" y2="516.6"/>
<line class="w" x1="340.5" y1="521.6" x2="340.5" y2="527.8"/>
<rect x="337.2" y="517.1" width="7.3" height="4" fill="none"/>
<line class="w" x1="351.3" y1="492.2" x2="351.3" y2="508.4"/>
<line class="w" x1="351.3" y1="514.6" x2="351.3" y2="519"/>
<rect x="348" y="508.9" width="7.3" height="5.2" fill="none"/>
<line class="w" x1="362.1" y1="504.1" x2="362.1" y2="509.4"/>
<line class="w" x1="362.1" y1="520.9" x2="362.1" y2="527.3"/>
<rect x="358.8" y="509.9" width="7.3" height="10.5" fill="#50535e"/>
<line class="w" x1="372.9" y1="511.1" x2="372.9" y2="517.1"/>
<line class="w" x1="372.9" y1="522.3" x2="372.9" y2="526.6"/>
<rect x="369.6" y="517.6" width="7.3" height="4.2" fill="none"/>
<line class="w" x1="383.7" y1="508.2" x2="383.7" y2="516.6"/>
<line class="w" x1="383.7" y1="519.4" x2="383.7" y2="520.6"/>
<rect x="380.4" y="517.1" width="7.3" height="1.9" fill="#50535e"/>
<line class="w" x1="394.5" y1="518.2" x2="394.5" y2="520.4"/>
<line class="w" x1="394.5" y1="523.5" x2="394.5" y2="539.8"/>
<rect x="391.2" y="520.9" width="7.3" height="2.1" fill="#50535e"/>
<line class="w" x1="405.3" y1="517" x2="405.3" y2="524"/>
<line class="w" x1="405.3" y1="527.3" x2="405.3" y2="529.7"/>
<rect x="402" y="524.5" width="7.3" height="2.3" fill="#50535e"/>
<line class="w" x1="416.1" y1="504.6" x2="416.1" y2="508.2"/>
<line class="w" x1="416.1" y1="528.5" x2="416.1" y2="536.7"/>
<rect x="412.8" y="508.7" width="7.3" height="19.3" fill="none"/>
<line class="w" x1="427" y1="487.1" x2="427" y2="500.5"/>
<rect x="423.6" y="501" width="7.3" height="4.7" fill="none"/>
<line class="w" x1="437.8" y1="499.8" x2="437.8" y2="500.5"/>
<line class="w" x1="437.8" y1="505.6" x2="437.8" y2="516.6"/>
<rect x="434.4" y="501" width="7.3" height="4" fill="#50535e"/>
<line class="w" x1="448.6" y1="498.1" x2="448.6" y2="505.8"/>
<line class="w" x1="448.6" y1="510.6" x2="448.6" y2="514.2"/>
<rect x="445.2" y="506.3" width="7.3" height="3.8" fill="#50535e"/>
<line class="w" x1="459.4" y1="500.3" x2="459.4" y2="518.5"/>
<rect x="455.5" y="508.1" width="8.4" height="1.1" fill="#50535e" stroke="none"/>
<line class="w" x1="470.2" y1="508.2" x2="470.2" y2="509.4"/>
<line class="w" x1="470.2" y1="521.6" x2="470.2" y2="529.2"/>
<rect x="466.8" y="509.9" width="7.3" height="11.2" fill="#50535e"/>
<line class="w" x1="481" y1="494.3" x2="481" y2="506.3"/>
<rect x="477.6" y="506.8" width="7.3" height="16" fill="none"/>
<line class="w" x1="491.8" y1="502.2" x2="491.8" y2="505.8"/>
<line class="w" x1="491.8" y1="512.5" x2="491.8" y2="514.2"/>
<rect x="488.4" y="506.3" width="7.3" height="5.7" fill="#50535e"/>
<line class="w" x1="502.6" y1="511.3" x2="502.6" y2="515.4"/>
<rect x="499.2" y="497.2" width="7.3" height="13.6" fill="none"/>
<line class="w" x1="513.4" y1="476.4" x2="513.4" y2="493.1"/>
<line class="w" x1="513.4" y1="496.3" x2="513.4" y2="498.6"/>
<rect x="510" y="493.6" width="7.3" height="2.2" fill="none"/>
<line class="w" x1="524.2" y1="490.7" x2="524.2" y2="493.8"/>
<line class="w" x1="524.2" y1="503.6" x2="524.2" y2="511.3"/>
<rect x="520.8" y="494.3" width="7.3" height="8.8" fill="#50535e"/>
<line class="w" x1="535" y1="489.8" x2="535" y2="491.4"/>
<line class="w" x1="535" y1="503.4" x2="535" y2="512.5"/>
<rect x="531.7" y="491.9" width="7.3" height="11" fill="none"/>
<line class="w" x1="545.8" y1="489.5" x2="545.8" y2="492.2"/>
<line class="w" x1="545.8" y1="535.2" x2="545.8" y2="535.7"/>
<rect x="542.5" y="492.7" width="7.3" height="42.1" fill="#50535e"/>
<line class="w" x1="556.6" y1="505.8" x2="556.6" y2="513.4"/>
<rect x="553.3" y="513.9" width="7.3" height="20.8" fill="none"/>
<line class="w" x1="567.4" y1="503.4" x2="567.4" y2="511.8"/>
<line class="w" x1="567.4" y1="520.6" x2="567.4" y2="523.7"/>
<rect x="564.1" y="512.3" width="7.3" height="7.9" fill="#50535e"/>
<line class="w" x1="578.2" y1="540.5" x2="578.2" y2="545.3"/>
<rect x="574.9" y="521.4" width="7.3" height="18.6" fill="#50535e"/>
<line class="w" x1="589" y1="528.5" x2="589" y2="547.7"/>
<rect x="585.1" y="540.4" width="8.4" height="1.1" fill="#50535e" stroke="none"/>
<line class="w" x1="599.8" y1="529.7" x2="599.8" y2="531.6"/>
<line class="w" x1="599.8" y1="541.4" x2="599.8" y2="542.9"/>
<rect x="596.5" y="532.1" width="7.3" height="8.8" fill="none"/>
<line class="w" x1="610.6" y1="515.4" x2="610.6" y2="521.6"/>
<rect x="607.3" y="522.1" width="7.3" height="7.9" fill="none"/>
<line class="w" x1="621.4" y1="544.3" x2="621.4" y2="546.7"/>
<rect x="618.1" y="522.6" width="7.3" height="21.3" fill="#50535e"/>
<line class="w" x1="632.2" y1="536.4" x2="632.2" y2="539.6"/>
<line class="w" x1="632.2" y1="544.5" x2="632.2" y2="550.5"/>
<rect x="628.9" y="540.1" width="7.3" height="3.9" fill="none"/>
<line class="w" x1="643.1" y1="535.7" x2="643.1" y2="539.5"/>
<line class="w" x1="643.1" y1="544.3" x2="643.1" y2="544.8"/>
<rect x="639.7" y="540" width="7.3" height="3.8" fill="#50535e"/>
<line class="w" x1="653.9" y1="530.4" x2="653.9" y2="534.5"/>
<rect x="650.5" y="535" width="7.3" height="7.9" fill="none"/>
<line class="w" x1="664.7" y1="542.9" x2="664.7" y2="545.7"/>
<rect x="661.3" y="534.8" width="7.3" height="7.6" fill="#50535e"/>
<line class="w" x1="675.5" y1="560.8" x2="675.5" y2="572.1"/>
<rect x="672.1" y="541.5" width="7.3" height="18.9" fill="#50535e"/>
<line class="w" x1="686.3" y1="559.6" x2="686.3" y2="562"/>
<line class="w" x1="686.3" y1="580.7" x2="686.3" y2="582.6"/>
<rect x="682.9" y="562.5" width="7.3" height="17.7" fill="#50535e"/>
<line class="w" x1="697.1" y1="566.1" x2="697.1" y2="575.5"/>
<line class="w" x1="697.1" y1="579.4" x2="697.1" y2="590.2"/>
<rect x="693.7" y="576" width="7.3" height="3" fill="none"/>
<line class="w" x1="707.9" y1="560.1" x2="707.9" y2="577.1"/>
<line class="w" x1="707.9" y1="579.5" x2="707.9" y2="582.8"/>
<rect x="704.5" y="577.6" width="7.3" height="1.4" fill="#50535e"/>
<line class="w" x1="718.7" y1="569.2" x2="718.7" y2="574.5"/>
<line class="w" x1="718.7" y1="579.5" x2="718.7" y2="586.4"/>
<rect x="715.3" y="575" width="7.3" height="4" fill="none"/>
<line class="w" x1="729.5" y1="569.9" x2="729.5" y2="579.5"/>
<rect x="725.6" y="573.7" width="8.4" height="1.1" fill="#50535e" stroke="none"/>
<line class="w" x1="740.3" y1="600.5" x2="740.3" y2="605.8"/>
<rect x="736.9" y="573.8" width="7.3" height="26.3" fill="#50535e"/>
<line class="w" x1="751.1" y1="580" x2="751.1" y2="589.8"/>
<rect x="747.8" y="590.3" width="7.3" height="7.4" fill="none"/>
<line class="w" x1="761.9" y1="554.4" x2="761.9" y2="557.2"/>
<rect x="758.6" y="557.7" width="7.3" height="33.2" fill="none"/>
<line class="w" x1="772.7" y1="537.6" x2="772.7" y2="541.7"/>
<line class="w" x1="772.7" y1="556.5" x2="772.7" y2="562.5"/>
<rect x="769.4" y="542.2" width="7.3" height="13.8" fill="none"/>
<line class="w" x1="783.5" y1="541" x2="783.5" y2="543.4"/>
<line class="w" x1="783.5" y1="557.5" x2="783.5" y2="566.1"/>
<rect x="780.2" y="543.9" width="7.3" height="13.1" fill="#50535e"/>
<line class="w" x1="794.3" y1="546" x2="794.3" y2="555.8"/>
<line class="w" x1="794.3" y1="557.7" x2="794.3" y2="559.6"/>
<rect x="791" y="556.3" width="7.3" height="0.9" fill="#50535e"/>
<line class="w" x1="805.1" y1="513.9" x2="805.1" y2="527.6"/>
<line class="w" x1="805.1" y1="556.8" x2="805.1" y2="557.9"/>
<rect x="801.8" y="528.1" width="7.3" height="28.2" fill="none"/>
<line class="w" x1="815.9" y1="528" x2="815.9" y2="529.2"/>
<rect x="812.6" y="529.7" width="7.3" height="14.3" fill="#50535e"/>
<line class="w" x1="826.7" y1="510.1" x2="826.7" y2="528.5"/>
<line class="w" x1="826.7" y1="545.3" x2="826.7" y2="546.7"/>
<rect x="823.4" y="529" width="7.3" height="15.7" fill="none"/>
<line class="w" x1="837.5" y1="528" x2="837.5" y2="529.7"/>
<line class="w" x1="837.5" y1="551.5" x2="837.5" y2="554.8"/>
<rect x="834.2" y="530.2" width="7.3" height="20.8" fill="#50535e"/>
<line class="w" x1="848.3" y1="550.5" x2="848.3" y2="552.2"/>
<line class="w" x1="848.3" y1="576.6" x2="848.3" y2="592.4"/>
<rect x="845" y="552.7" width="7.3" height="23.4" fill="#50535e"/>
<line class="w" x1="859.2" y1="547.7" x2="859.2" y2="565.1"/>
<line class="w" x1="859.2" y1="574.7" x2="859.2" y2="580"/>
<rect x="855.8" y="565.6" width="7.3" height="8.6" fill="none"/>
<line class="w" x1="870" y1="554.8" x2="870" y2="561.5"/>
<line class="w" x1="870" y1="564.4" x2="870" y2="568.7"/>
<rect x="866.6" y="562" width="7.3" height="1.9" fill="#50535e"/>
<line class="w" x1="880.8" y1="561.3" x2="880.8" y2="562.3"/>
<line class="w" x1="880.8" y1="565.8" x2="880.8" y2="573.7"/>
<rect x="877.4" y="562.8" width="7.3" height="2.5" fill="none"/>
<line class="w" x1="891.6" y1="556" x2="891.6" y2="561.8"/>
<line class="w" x1="891.6" y1="565.3" x2="891.6" y2="566.3"/>
<rect x="888.2" y="562.3" width="7.3" height="2.5" fill="none"/>
<line class="w" x1="902.4" y1="313.6" x2="902.4" y2="322"/>
<line class="w" x1="902.4" y1="379" x2="902.4" y2="384.5"/>
<rect x="899" y="322.5" width="7.3" height="55.9" fill="#50535e"/>
<line class="w" x1="913.2" y1="359.1" x2="913.2" y2="379"/>
<line class="w" x1="913.2" y1="398.6" x2="913.2" y2="403.4"/>
<rect x="909.8" y="379.5" width="7.3" height="18.6" fill="#50535e"/>
<line class="w" x1="924" y1="372.5" x2="924" y2="373.4"/>
<line class="w" x1="924" y1="399.3" x2="924" y2="415.6"/>
<rect x="920.6" y="373.9" width="7.3" height="24.8" fill="none"/>
<line class="w" x1="934.8" y1="344" x2="934.8" y2="351.2"/>
<line class="w" x1="934.8" y1="373.7" x2="934.8" y2="384.5"/>
<rect x="931.4" y="351.7" width="7.3" height="21.5" fill="none"/>
<line class="w" x1="945.6" y1="344" x2="945.6" y2="351.9"/>
<line class="w" x1="945.6" y1="365.6" x2="945.6" y2="383"/>
<rect x="942.2" y="352.4" width="7.3" height="12.6" fill="#50535e"/>
<line class="w" x1="956.4" y1="363.9" x2="956.4" y2="366.3"/>
<line class="w" x1="956.4" y1="391.2" x2="956.4" y2="395.7"/>
<rect x="953" y="366.8" width="7.3" height="23.9" fill="#50535e"/>
<line class="w" x1="967.2" y1="373.4" x2="967.2" y2="391.2"/>
<rect x="963.9" y="391.7" width="7.3" height="50.7" fill="#50535e"/>
<line class="w" x1="978" y1="403.4" x2="978" y2="417.5"/>
<line class="w" x1="978" y1="443.5" x2="978" y2="455.5"/>
<rect x="974.7" y="418" width="7.3" height="25.1" fill="none"/>
<line class="w" x1="988.8" y1="411" x2="988.8" y2="421.1"/>
<line class="w" x1="988.8" y1="450.7" x2="988.8" y2="480.6"/>
<rect x="985.5" y="421.6" width="7.3" height="28.7" fill="#50535e"/>
<line class="w" x1="999.6" y1="439.5" x2="999.6" y2="450.2"/>
<line class="w" x1="999.6" y1="453.4" x2="999.6" y2="475.4"/>
<rect x="996.3" y="450.7" width="7.3" height="2.1" fill="#50535e"/>
<line class="w" x1="1010.4" y1="444" x2="1010.4" y2="453.1"/>
<line class="w" x1="1010.4" y1="478.7" x2="1010.4" y2="495.7"/>
<rect x="1007.1" y="453.6" width="7.3" height="24.6" fill="#50535e"/>
<line class="w" x1="1021.2" y1="450.2" x2="1021.2" y2="466.8"/>
<rect x="1017.9" y="467.3" width="7.3" height="10.5" fill="none"/>
<line class="w" x1="1032" y1="451.9" x2="1032" y2="455.5"/>
<line class="w" x1="1032" y1="467.5" x2="1032" y2="489.7"/>
<rect x="1028.7" y="456" width="7.3" height="11" fill="none"/>
<line class="w" x1="1042.8" y1="443.1" x2="1042.8" y2="450.2"/>
<line class="w" x1="1042.8" y1="455.8" x2="1042.8" y2="463.9"/>
<rect x="1039.5" y="450.7" width="7.3" height="4.5" fill="none"/>
<line class="w" x1="1053.6" y1="421.1" x2="1053.6" y2="425.4"/>
<rect x="1050.3" y="425.9" width="7.3" height="20.1" fill="none"/>
<line class="w" x1="1064.4" y1="418.9" x2="1064.4" y2="424.2"/>
<line class="w" x1="1064.4" y1="439.7" x2="1064.4" y2="447.6"/>
<rect x="1061.1" y="424.7" width="7.3" height="14.6" fill="#50535e"/>
<line class="w" x1="1075.3" y1="434" x2="1075.3" y2="442.4"/>
<line class="w" x1="1075.3" y1="445.2" x2="1075.3" y2="458.6"/>
<rect x="1071.9" y="442.9" width="7.3" height="1.9" fill="#50535e"/>
<line class="w" x1="1086.1" y1="442.9" x2="1086.1" y2="444.3"/>
<line class="w" x1="1086.1" y1="471.6" x2="1086.1" y2="479.7"/>
<rect x="1082.7" y="444.8" width="7.3" height="26.3" fill="#50535e"/>
<line class="w" x1="1096.9" y1="462.7" x2="1096.9" y2="473.5"/>
<line class="w" x1="1096.9" y1="507.7" x2="1096.9" y2="523.3"/>
<rect x="1093.5" y="474" width="7.3" height="33.2" fill="#50535e"/>
<line class="w" x1="1107.7" y1="498.1" x2="1107.7" y2="508.7"/>
<line class="w" x1="1107.7" y1="511.1" x2="1107.7" y2="531.6"/>
<rect x="1104.3" y="509.2" width="7.3" height="1.4" fill="#50535e"/>
<line class="w" x1="1118.5" y1="511.3" x2="1118.5" y2="513.2"/>
<line class="w" x1="1118.5" y1="530" x2="1118.5" y2="540.5"/>
<rect x="1115.1" y="513.7" width="7.3" height="15.7" fill="#50535e"/>
<line class="w" x1="1129.3" y1="518.5" x2="1129.3" y2="532.1"/>
<line class="w" x1="1129.3" y1="555.6" x2="1129.3" y2="563.9"/>
<rect x="1125.9" y="532.6" width="7.3" height="22.4" fill="#50535e"/>
<line class="w" x1="1140.1" y1="537.4" x2="1140.1" y2="550.3"/>
<line class="w" x1="1140.1" y1="554.6" x2="1140.1" y2="567.5"/>
<rect x="1136.7" y="550.8" width="7.3" height="3.2" fill="none"/>
<line class="w" x1="1150.9" y1="525.2" x2="1150.9" y2="537.4"/>
<rect x="1147.5" y="537.9" width="7.3" height="13.1" fill="none"/>
<line class="w" x1="1161.7" y1="535.7" x2="1161.7" y2="538.8"/>
<line class="w" x1="1161.7" y1="562" x2="1161.7" y2="565.6"/>
<rect x="1158.3" y="539.3" width="7.3" height="22.2" fill="#50535e"/>
<line class="w" x1="1172.5" y1="521.3" x2="1172.5" y2="535.7"/>
<line class="w" x1="1172.5" y1="561.3" x2="1172.5" y2="565.6"/>
<rect x="1169.2" y="536.2" width="7.3" height="24.6" fill="none"/>
<line class="w" x1="1183.3" y1="507.5" x2="1183.3" y2="517"/>
<line class="w" x1="1183.3" y1="535.2" x2="1183.3" y2="538.6"/>
<rect x="1180" y="517.5" width="7.3" height="17.2" fill="none"/>
<line class="w" x1="1194.1" y1="505.8" x2="1194.1" y2="517.8"/>
<line class="w" x1="1194.1" y1="523" x2="1194.1" y2="529.7"/>
<rect x="1190.8" y="518.3" width="7.3" height="4.3" fill="#50535e"/>
<line class="w" x1="1204.9" y1="514.2" x2="1204.9" y2="525.4"/>
<line class="w" x1="1204.9" y1="528.3" x2="1204.9" y2="533.3"/>
<rect x="1201.6" y="525.9" width="7.3" height="1.9" fill="#50535e"/>
<line class="w" x1="1215.7" y1="513.4" x2="1215.7" y2="515.6"/>
<line class="w" x1="1215.7" y1="525.2" x2="1215.7" y2="536.4"/>
<rect x="1212.4" y="516.1" width="7.3" height="8.6" fill="none"/>
<line class="w" x1="1226.5" y1="486.9" x2="1226.5" y2="487.6"/>
<line class="w" x1="1226.5" y1="515.4" x2="1226.5" y2="521.3"/>
<rect x="1223.2" y="488.1" width="7.3" height="26.8" fill="none"/>
<line class="w" x1="1237.3" y1="481.6" x2="1237.3" y2="488.3"/>
<line class="w" x1="1237.3" y1="507.5" x2="1237.3" y2="511.3"/>
<rect x="1234" y="488.8" width="7.3" height="18.1" fill="#50535e"/>
<line class="w" x1="1248.1" y1="491" x2="1248.1" y2="498.4"/>
<line class="w" x1="1248.1" y1="506.3" x2="1248.1" y2="508.7"/>
<rect x="1244.8" y="498.9" width="7.3" height="6.9" fill="none"/>
<line class="w" x1="1258.9" y1="484.5" x2="1258.9" y2="499.1"/>
<line class="w" x1="1258.9" y1="502" x2="1258.9" y2="506.3"/>
<rect x="1255.6" y="499.6" width="7.3" height="1.9" fill="#50535e"/>
<line class="w" x1="1269.7" y1="494.5" x2="1269.7" y2="503.4"/>
<line class="w" x1="1269.7" y1="517" x2="1269.7" y2="519.4"/>
<rect x="1266.4" y="503.9" width="7.3" height="12.6" fill="#50535e"/>
<line class="w" x1="1280.5" y1="502.7" x2="1280.5" y2="506"/>
<line class="w" x1="1280.5" y1="517.3" x2="1280.5" y2="526.6"/>
<rect x="1277.2" y="506.5" width="7.3" height="10.2" fill="none"/>
<line class="w" x1="1291.4" y1="493.6" x2="1291.4" y2="504.4"/>
<line class="w" x1="1291.4" y1="507.5" x2="1291.4" y2="515.6"/>
<rect x="1288" y="504.9" width="7.3" height="2.1" fill="#50535e"/>
<line class="w" x1="1302.2" y1="500.3" x2="1302.2" y2="505.1"/>
<line class="w" x1="1302.2" y1="520.1" x2="1302.2" y2="523.3"/>
<rect x="1298.8" y="505.6" width="7.3" height="14.1" fill="#50535e"/>
<line class="w" x1="1313" y1="514.2" x2="1313" y2="517.2"/>
<line class="w" x1="1313" y1="520.4" x2="1313" y2="531.4"/>
<rect x="1309.6" y="517.7" width="7.3" height="2.2" fill="none"/>
<line class="w" x1="1323.8" y1="508.9" x2="1323.8" y2="523"/>
<rect x="1319.9" y="517.1" width="8.4" height="1.1" fill="#50535e" stroke="none"/>
<line class="w" x1="1334.6" y1="508.7" x2="1334.6" y2="518.2"/>
<line class="w" x1="1334.6" y1="521.3" x2="1334.6" y2="527.3"/>
<rect x="1331.2" y="518.7" width="7.3" height="2.1" fill="#50535e"/>
<line class="w" x1="1345.4" y1="517.3" x2="1345.4" y2="522.3"/>
<rect x="1342" y="522.8" width="7.3" height="11.2" fill="#50535e"/>
<line class="w" x1="1356.2" y1="528" x2="1356.2" y2="533.3"/>
<line class="w" x1="1356.2" y1="536.4" x2="1356.2" y2="542.4"/>
<rect x="1352.8" y="533.8" width="7.3" height="2.1" fill="#50535e"/>
<line class="w" x1="1367" y1="532.1" x2="1367" y2="536.4"/>
<line class="w" x1="1367" y1="561.5" x2="1367" y2="564.4"/>
<rect x="1363.6" y="536.9" width="7.3" height="24.1" fill="#50535e"/>
<line class="w" x1="1377.8" y1="559.6" x2="1377.8" y2="562.3"/>
<line class="w" x1="1377.8" y1="569.4" x2="1377.8" y2="580.2"/>
<rect x="1374.4" y="562.8" width="7.3" height="6.2" fill="#50535e"/>
<line class="w" x1="1388.6" y1="550.1" x2="1388.6" y2="551.3"/>
<line class="w" x1="1388.6" y1="568.2" x2="1388.6" y2="586.4"/>
<rect x="1385.2" y="551.8" width="7.3" height="16" fill="none"/>
<line class="w" x1="1399.4" y1="542.2" x2="1399.4" y2="547.5"/>
<line class="w" x1="1399.4" y1="550.7" x2="1399.4" y2="561.3"/>
<rect x="1396.1" y="548" width="7.3" height="2.3" fill="none"/>
<line class="w" x1="1410.2" y1="534.5" x2="1410.2" y2="546.5"/>
<line class="w" x1="1410.2" y1="552.4" x2="1410.2" y2="553.6"/>
<rect x="1406.9" y="547" width="7.3" height="5" fill="#50535e"/>
<line class="w" x1="1421" y1="546.5" x2="1421" y2="550.5"/>
<line class="w" x1="1421" y1="564.4" x2="1421" y2="570.4"/>
<rect x="1417.7" y="551" width="7.3" height="12.9" fill="#50535e"/>
<line class="w" x1="1431.8" y1="552" x2="1431.8" y2="564.2"/>
<line class="w" x1="1431.8" y1="566.3" x2="1431.8" y2="582.4"/>
<rect x="1428.5" y="564.7" width="7.3" height="1.2" fill="#50535e"/>
<line class="w" x1="1442.6" y1="562" x2="1442.6" y2="565.6"/>
<line class="w" x1="1442.6" y1="580" x2="1442.6" y2="592.6"/>
<rect x="1439.3" y="566.1" width="7.3" height="13.4" fill="#50535e"/>
<line class="w" x1="1453.4" y1="568" x2="1453.4" y2="576.2"/>
<rect x="1450.1" y="576.7" width="7.3" height="2.3" fill="none"/>
<line class="w" x1="1464.2" y1="577.6" x2="1464.2" y2="580.7"/>
<rect x="1460.9" y="569.2" width="7.3" height="7.9" fill="none"/>
<line class="w" x1="1475" y1="564.9" x2="1475" y2="573.5"/>
<rect x="1471.1" y="567.9" width="8.4" height="1.1" fill="#50535e" stroke="none"/>
<line class="w" x1="1485.8" y1="544.6" x2="1485.8" y2="548.4"/>
<rect x="1482.5" y="548.9" width="7.3" height="17.9" fill="none"/>
<line class="w" x1="1496.6" y1="537.6" x2="1496.6" y2="542.4"/>
<line class="w" x1="1496.6" y1="547.7" x2="1496.6" y2="556.8"/>
<rect x="1493.3" y="542.9" width="7.3" height="4.3" fill="none"/>
<line class="w" x1="1507.5" y1="536.2" x2="1507.5" y2="540.3"/>
<line class="w" x1="1507.5" y1="543.6" x2="1507.5" y2="546.9"/>
<rect x="1504.1" y="540.8" width="7.3" height="2.3" fill="none"/>
<line class="w" x1="1518.3" y1="532.4" x2="1518.3" y2="536.7"/>
<line class="w" x1="1518.3" y1="539.9" x2="1518.3" y2="540.5"/>
<rect x="1514.9" y="537.2" width="7.3" height="2.2" fill="none"/>
<line class="w" x1="1529.1" y1="537.4" x2="1529.1" y2="538.6"/>
<line class="w" x1="1529.1" y1="561.5" x2="1529.1" y2="562.7"/>
<rect x="1525.7" y="539.1" width="7.3" height="22" fill="#50535e"/>
<line class="w" x1="1539.9" y1="550.5" x2="1539.9" y2="551.5"/>
<rect x="1536.5" y="552" width="7.3" height="8.8" fill="none"/>
<line class="w" x1="1550.7" y1="539.3" x2="1550.7" y2="544.6"/>
<line class="w" x1="1550.7" y1="551.5" x2="1550.7" y2="553.9"/>
<rect x="1547.3" y="545.1" width="7.3" height="5.9" fill="none"/>
<line class="w" x1="1561.5" y1="519" x2="1561.5" y2="530.2"/>
<line class="w" x1="1561.5" y1="542.9" x2="1561.5" y2="545.3"/>
<rect x="1558.1" y="530.7" width="7.3" height="11.7" fill="none"/>
<line class="w" x1="1572.3" y1="519" x2="1572.3" y2="530"/>
<line class="w" x1="1572.3" y1="533.3" x2="1572.3" y2="538.8"/>
<rect x="1568.9" y="530.5" width="7.3" height="2.3" fill="#50535e"/>
<line class="w" x1="1583.1" y1="533.3" x2="1583.1" y2="535.2"/>
<line class="w" x1="1583.1" y1="543.6" x2="1583.1" y2="549.6"/>
<rect x="1579.7" y="535.7" width="7.3" height="7.4" fill="#50535e"/>
<line class="w" x1="1593.9" y1="541" x2="1593.9" y2="541.7"/>
<line class="w" x1="1593.9" y1="546.9" x2="1593.9" y2="557.7"/>
<rect x="1590.5" y="542.2" width="7.3" height="4.3" fill="#50535e"/>
<line class="w" x1="1604.7" y1="542.2" x2="1604.7" y2="546"/>
<line class="w" x1="1604.7" y1="555.6" x2="1604.7" y2="556.5"/>
<rect x="1601.3" y="546.5" width="7.3" height="8.6" fill="#50535e"/>
<line class="w" x1="1615.5" y1="544.1" x2="1615.5" y2="551.8"/>
<line class="w" x1="1615.5" y1="555" x2="1615.5" y2="558.9"/>
<rect x="1612.2" y="552.3" width="7.3" height="2.2" fill="none"/>
<line class="w" x1="1626.3" y1="546.9" x2="1626.3" y2="548.4"/>
<line class="w" x1="1626.3" y1="552.6" x2="1626.3" y2="553.6"/>
<rect x="1623" y="548.9" width="7.3" height="3.2" fill="none"/>
<line class="w" x1="1637.1" y1="539.3" x2="1637.1" y2="545.5"/>
<rect x="1633.8" y="546" width="7.3" height="2.2" fill="none"/>
<line class="w" x1="1647.9" y1="535" x2="1647.9" y2="536.4"/>
<line class="w" x1="1647.9" y1="546.5" x2="1647.9" y2="552.9"/>
<rect x="1644.6" y="536.9" width="7.3" height="9" fill="none"/>
<line class="w" x1="1658.7" y1="518" x2="1658.7" y2="519.2"/>
<rect x="1655.4" y="519.7" width="7.3" height="15" fill="none"/>
<line class="w" x1="1669.5" y1="504.6" x2="1669.5" y2="508.7"/>
<line class="w" x1="1669.5" y1="517.8" x2="1669.5" y2="526.8"/>
<rect x="1666.2" y="509.2" width="7.3" height="8.1" fill="none"/>
<line class="w" x1="1680.3" y1="508.2" x2="1680.3" y2="509.4"/>
<line class="w" x1="1680.3" y1="513.4" x2="1680.3" y2="523.3"/>
<rect x="1677" y="509.9" width="7.3" height="3.1" fill="#50535e"/>
<line class="w" x1="1691.1" y1="506.3" x2="1691.1" y2="519.7"/>
<rect x="1687.2" y="512.7" width="8.4" height="1.1" fill="#50535e" stroke="none"/>
<line class="w" x1="1701.9" y1="506.3" x2="1701.9" y2="513.4"/>
<rect x="1698.6" y="513.9" width="7.3" height="3.1" fill="#50535e"/>
<line class="w" x1="1712.8" y1="510.8" x2="1712.8" y2="520.6"/>
<rect x="1708.8" y="516" width="8.4" height="1.1" fill="#50535e" stroke="none"/>
<line class="w" x1="1723.6" y1="505.1" x2="1723.6" y2="511.5"/>
<rect x="1720.2" y="512" width="7.3" height="4.7" fill="none"/>
<line class="w" x1="1734.4" y1="495.5" x2="1734.4" y2="496.2"/>
<rect x="1731" y="496.7" width="7.3" height="15" fill="none"/>
<line class="w" x1="1745.2" y1="494.3" x2="1745.2" y2="496.2"/>
<line class="w" x1="1745.2" y1="500.3" x2="1745.2" y2="510.6"/>
<rect x="1741.8" y="496.7" width="7.3" height="3.1" fill="#50535e"/>
<line class="w" x1="1756" y1="497.4" x2="1756" y2="501.5"/>
<line class="w" x1="1756" y1="504.8" x2="1756" y2="516.6"/>
<rect x="1752.6" y="502" width="7.3" height="2.3" fill="#50535e"/>
<line class="w" x1="1766.8" y1="496.7" x2="1766.8" y2="505.1"/>
<line class="w" x1="1766.8" y1="508.2" x2="1766.8" y2="510.1"/>
<rect x="1763.4" y="505.6" width="7.3" height="2.1" fill="#50535e"/>
<line class="w" x1="1777.6" y1="64.6" x2="1777.6" y2="73.3"/>
<line class="w" x1="1777.6" y1="92" x2="1777.6" y2="106.3"/>
<rect x="1774.2" y="73.8" width="7.3" height="17.7" fill="none"/>
</g>
<rect x="0" y="659.6" width="1833" height="1.3" fill="#dadfe8"/>
<g clip-path="url(#cp2)">
<line x1="0" y1="770.6" x2="1788" y2="770.6" stroke="#c9ccd3" stroke-width="0.8" stroke-dasharray="4.3 3.5"/>
<rect x="0.6" y="769" width="9.9" height="1.6" fill="#d3d6dd"/>
<rect x="11.4" y="767.4" width="9.9" height="3.2" fill="#d3d6dd"/>
<rect x="22.2" y="768" width="9.9" height="2.6" fill="#b6b9c3"/>
<rect x="33" y="770.2" width="9.9" height="0.8" fill="#b6b9c3"/>
<rect x="43.8" y="770.2" width="9.9" height="0.8" fill="#d3d6dd"/>
<rect x="54.6" y="769.5" width="9.9" height="1.1" fill="#d3d6dd"/>
<rect x="65.4" y="768.5" width="9.9" height="2.1" fill="#d3d6dd"/>
<rect x="76.2" y="768" width="9.9" height="2.6" fill="#d3d6dd"/>
<rect x="87" y="770.2" width="9.9" height="0.8" fill="#b6b9c3"/>
<rect x="97.8" y="770.6" width="9.9" height="3.5" fill="#b6b9c3"/>
<rect x="108.6" y="770.6" width="9.9" height="6" fill="#b6b9c3"/>
<rect x="119.4" y="770.6" width="9.9" height="6" fill="#b6b9c3"/>
<rect x="130.2" y="770.6" width="9.9" height="6" fill="#d3d6dd"/>
<rect x="141" y="770.6" width="9.9" height="3.5" fill="#d3d6dd"/>
<rect x="151.8" y="770.2" width="9.9" height="0.8" fill="#d3d6dd"/>
<rect x="162.6" y="770.2" width="9.9" height="0.8" fill="#d3d6dd"/>
<rect x="173.4" y="770.6" width="9.9" height="1.5" fill="#b6b9c3"/>
<rect x="184.2" y="770.6" width="9.9" height="1.5" fill="#b6b9c3"/>
<rect x="195.1" y="770.2" width="9.9" height="0.8" fill="#d3d6dd"/>
<rect x="205.9" y="768.6" width="9.9" height="2" fill="#d3d6dd"/>
<rect x="216.7" y="770.2" width="9.9" height="0.8" fill="#b6b9c3"/>
<rect x="227.5" y="770.2" width="9.9" height="0.8" fill="#b6b9c3"/>
<rect x="238.3" y="770.6" width="9.9" height="2" fill="#b6b9c3"/>
<rect x="249.1" y="770.2" width="9.9" height="0.8" fill="#d3d6dd"/>
<rect x="259.9" y="770.2" width="9.9" height="0.8" fill="#d3d6dd"/>
<rect x="270.7" y="770.2" width="9.9" height="0.8" fill="#d3d6dd"/>
<rect x="281.5" y="770.2" width="9.9" height="0.8" fill="#d3d6dd"/>
<rect x="292.3" y="770.6" width="9.9" height="1" fill="#b6b9c3"/>
<rect x="303.1" y="770.6" width="9.9" height="2.5" fill="#b6b9c3"/>
<rect x="313.9" y="770.6" width="9.9" height="1.5" fill="#d3d6dd"/>
<rect x="324.7" y="770.2" width="9.9" height="0.8" fill="#d3d6dd"/>
<rect x="335.5" y="770.2" width="9.9" height="0.8" fill="#d3d6dd"/>
<rect x="346.3" y="769.4" width="9.9" height="1.2" fill="#d3d6dd"/>
<rect x="357.1" y="768.4" width="9.9" height="2.2" fill="#d3d6dd"/>
<rect x="367.9" y="768.4" width="9.9" height="2.2" fill="#d3d6dd"/>
<rect x="378.7" y="767.6" width="9.9" height="3" fill="#d3d6dd"/>
<rect x="389.5" y="767.6" width="9.9" height="3" fill="#b6b9c3"/>
<rect x="400.3" y="768.1" width="9.9" height="2.5" fill="#b6b9c3"/>
<rect x="411.1" y="765.8" width="9.9" height="4.8" fill="#d3d6dd"/>
<rect x="422" y="764.3" width="9.9" height="6.3" fill="#d3d6dd"/>
<rect x="432.8" y="764.6" width="9.9" height="6" fill="#d3d6dd"/>
<rect x="443.6" y="765.1" width="9.9" height="5.5" fill="#b6b9c3"/>
<rect x="454.4" y="765.1" width="9.9" height="5.5" fill="#b6b9c3"/>
<rect x="465.2" y="765.6" width="9.9" height="5" fill="#b6b9c3"/>
<rect x="476" y="765.6" width="9.9" height="5" fill="#d3d6dd"/>
<rect x="486.8" y="765.6" width="9.9" height="5" fill="#b6b9c3"/>
<rect x="497.6" y="765.1" width="9.9" height="5.5" fill="#d3d6dd"/>
<rect x="508.4" y="764.3" width="9.9" height="6.3" fill="#d3d6dd"/>
<rect x="519.2" y="765.1" width="9.9" height="5.5" fill="#b6b9c3"/>
<rect x="530" y="764.3" width="9.9" height="6.3" fill="#d3d6dd"/>
<rect x="540.8" y="768.1" width="9.9" height="2.5" fill="#b6b9c3"/>
<rect x="551.6" y="768.9" width="9.9" height="1.7" fill="#b6b9c3"/>
<rect x="562.4" y="769.6" width="9.9" height="1" fill="#b6b9c3"/>
<rect x="573.2" y="770.2" width="9.9" height="0.8" fill="#b6b9c3"/>
<rect x="584" y="770.6" width="9.9" height="2.5" fill="#b6b9c3"/>
<rect x="594.8" y="770.6" width="9.9" height="2.3" fill="#d3d6dd"/>
<rect x="605.6" y="770.2" width="9.9" height="0.8" fill="#d3d6dd"/>
<rect x="616.4" y="770.6" width="9.9" height="2.5" fill="#b6b9c3"/>
<rect x="627.2" y="770.6" width="9.9" height="2.5" fill="#b6b9c3"/>
<rect x="638.1" y="770.6" width="9.9" height="2.5" fill="#b6b9c3"/>
<rect x="648.9" y="770.6" width="9.9" height="1.5" fill="#d3d6dd"/>
<rect x="659.7" y="770.6" width="9.9" height="1.3" fill="#d3d6dd"/>
<rect x="670.5" y="770.6" width="9.9" height="2.5" fill="#b6b9c3"/>
<rect x="681.3" y="770.6" width="9.9" height="4.8" fill="#b6b9c3"/>
<rect x="692.1" y="770.6" width="9.9" height="5.8" fill="#b6b9c3"/>
<rect x="702.9" y="770.6" width="9.9" height="5.8" fill="#b6b9c3"/>
<rect x="713.7" y="770.6" width="9.9" height="4.8" fill="#d3d6dd"/>
<rect x="724.5" y="770.6" width="9.9" height="3.8" fill="#d3d6dd"/>
<rect x="735.3" y="770.6" width="9.9" height="5.8" fill="#b6b9c3"/>
<rect x="746.1" y="770.6" width="9.9" height="4.8" fill="#d3d6dd"/>
<rect x="756.9" y="770.6" width="9.9" height="1.5" fill="#d3d6dd"/>
<rect x="767.7" y="768.6" width="9.9" height="2" fill="#d3d6dd"/>
<rect x="778.5" y="767.4" width="9.9" height="3.2" fill="#d3d6dd"/>
<rect x="789.3" y="766.4" width="9.9" height="4.2" fill="#d3d6dd"/>
<rect x="800.1" y="763.6" width="9.9" height="7" fill="#d3d6dd"/>
<rect x="810.9" y="763.6" width="9.9" height="7" fill="#d3d6dd"/>
<rect x="821.7" y="762.6" width="9.9" height="8" fill="#d3d6dd"/>
<rect x="832.5" y="764.3" width="9.9" height="6.3" fill="#b6b9c3"/>
<rect x="843.3" y="767.4" width="9.9" height="3.2" fill="#b6b9c3"/>
<rect x="854.2" y="767.8" width="9.9" height="2.8" fill="#b6b9c3"/>
<rect x="865" y="768.3" width="9.9" height="2.3" fill="#b6b9c3"/>
<rect x="875.8" y="769.1" width="9.9" height="1.5" fill="#b6b9c3"/>
<rect x="886.6" y="769.1" width="9.9" height="1.5" fill="#b6b9c3"/>
<rect x="897.4" y="754" width="9.9" height="16.6" fill="#d3d6dd"/>
<rect x="908.2" y="747.1" width="9.9" height="23.5" fill="#d3d6dd"/>
<rect x="919" y="742" width="9.9" height="28.6" fill="#d3d6dd"/>
<rect x="929.8" y="738.3" width="9.9" height="32.3" fill="#d3d6dd"/>
<rect x="940.6" y="739.1" width="9.9" height="31.5" fill="#b6b9c3"/>
<rect x="951.4" y="743.8" width="9.9" height="26.8" fill="#b6b9c3"/>
<rect x="962.2" y="752.6" width="9.9" height="18" fill="#b6b9c3"/>
<rect x="973" y="757" width="9.9" height="13.6" fill="#b6b9c3"/>
<rect x="983.8" y="764" width="9.9" height="6.6" fill="#b6b9c3"/>
<rect x="994.6" y="769.1" width="9.9" height="1.5" fill="#b6b9c3"/>
<rect x="1005.4" y="770.6" width="9.9" height="5" fill="#b6b9c3"/>
<rect x="1016.2" y="770.6" width="9.9" height="7.4" fill="#b6b9c3"/>
<rect x="1027" y="770.6" width="9.9" height="8.9" fill="#b6b9c3"/>
<rect x="1037.8" y="770.6" width="9.9" height="8.2" fill="#d3d6dd"/>
<rect x="1048.6" y="770.6" width="9.9" height="6.6" fill="#d3d6dd"/>
<rect x="1059.4" y="770.6" width="9.9" height="5.6" fill="#d3d6dd"/>
<rect x="1070.3" y="770.6" width="9.9" height="6.4" fill="#b6b9c3"/>
<rect x="1081.1" y="770.6" width="9.9" height="8.9" fill="#b6b9c3"/>
<rect x="1091.9" y="770.6" width="9.9" height="13.3" fill="#b6b9c3"/>
<rect x="1102.7" y="770.6" width="9.9" height="15.6" fill="#b6b9c3"/>
<rect x="1113.5" y="770.6" width="9.9" height="18.2" fill="#b6b9c3"/>
<rect x="1124.3" y="770.6" width="9.9" height="21.1" fill="#b6b9c3"/>
<rect x="1135.1" y="770.6" width="9.9" height="21.7" fill="#b6b9c3"/>
<rect x="1145.9" y="770.6" width="9.9" height="20.1" fill="#d3d6dd"/>
<rect x="1156.7" y="770.6" width="9.9" height="19.2" fill="#d3d6dd"/>
<rect x="1167.5" y="770.6" width="9.9" height="16" fill="#d3d6dd"/>
<rect x="1178.3" y="770.6" width="9.9" height="11.9" fill="#d3d6dd"/>
<rect x="1189.1" y="770.6" width="9.9" height="8.9" fill="#d3d6dd"/>
<rect x="1199.9" y="770.6" width="9.9" height="6.3" fill="#d3d6dd"/>
<rect x="1210.7" y="770.6" width="9.9" height="4" fill="#d3d6dd"/>
<rect x="1221.5" y="770.2" width="9.9" height="0.8" fill="#d3d6dd"/>
<rect x="1232.3" y="768.6" width="9.9" height="2" fill="#d3d6dd"/>
<rect x="1243.1" y="767.4" width="9.9" height="3.2" fill="#d3d6dd"/>
<rect x="1253.9" y="767.4" width="9.9" height="3.2" fill="#d3d6dd"/>
<rect x="1264.7" y="768.1" width="9.9" height="2.5" fill="#b6b9c3"/>
<rect x="1275.5" y="768.1" width="9.9" height="2.5" fill="#d3d6dd"/>
<rect x="1286.4" y="768.1" width="9.9" height="2.5" fill="#b6b9c3"/>
<rect x="1297.2" y="768.6" width="9.9" height="2" fill="#b6b9c3"/>
<rect x="1308" y="769.4" width="9.9" height="1.2" fill="#b6b9c3"/>
<rect x="1318.8" y="769.4" width="9.9" height="1.2" fill="#b6b9c3"/>
<rect x="1329.6" y="770.2" width="9.9" height="0.8" fill="#b6b9c3"/>
<rect x="1340.4" y="770.6" width="9.9" height="1" fill="#b6b9c3"/>
<rect x="1351.2" y="770.6" width="9.9" height="1.8" fill="#b6b9c3"/>
<rect x="1362" y="770.6" width="9.9" height="4" fill="#b6b9c3"/>
<rect x="1372.8" y="770.6" width="9.9" height="6.3" fill="#b6b9c3"/>
<rect x="1383.6" y="770.6" width="9.9" height="5.8" fill="#d3d6dd"/>
<rect x="1394.4" y="770.6" width="9.9" height="4.8" fill="#d3d6dd"/>
<rect x="1405.2" y="770.6" width="9.9" height="4" fill="#d3d6dd"/>
<rect x="1416" y="770.6" width="9.9" height="4" fill="#b6b9c3"/>
<rect x="1426.8" y="770.6" width="9.9" height="4" fill="#b6b9c3"/>
<rect x="1437.6" y="770.6" width="9.9" height="5" fill="#b6b9c3"/>
<rect x="1448.4" y="770.6" width="9.9" height="4.8" fill="#d3d6dd"/>
<rect x="1459.2" y="770.6" width="9.9" height="3" fill="#d3d6dd"/>
<rect x="1470" y="770.6" width="9.9" height="2.5" fill="#d3d6dd"/>
<rect x="1480.8" y="770.2" width="9.9" height="0.8" fill="#d3d6dd"/>
<rect x="1491.6" y="768.1" width="9.9" height="2.5" fill="#d3d6dd"/>
<rect x="1502.5" y="766.4" width="9.9" height="4.2" fill="#d3d6dd"/>
<rect x="1513.3" y="765.1" width="9.9" height="5.5" fill="#d3d6dd"/>
<rect x="1524.1" y="766.1" width="9.9" height="4.5" fill="#b6b9c3"/>
<rect x="1534.9" y="766.1" width="9.9" height="4.5" fill="#b6b9c3"/>
<rect x="1545.7" y="766.1" width="9.9" height="4.5" fill="#d3d6dd"/>
<rect x="1556.5" y="764.8" width="9.9" height="5.8" fill="#d3d6dd"/>
<rect x="1567.3" y="764.8" width="9.9" height="5.8" fill="#d3d6dd"/>
<rect x="1578.1" y="765.3" width="9.9" height="5.3" fill="#b6b9c3"/>
<rect x="1588.9" y="766.1" width="9.9" height="4.5" fill="#b6b9c3"/>
<rect x="1599.7" y="767.8" width="9.9" height="2.8" fill="#b6b9c3"/>
<rect x="1610.5" y="768.5" width="9.9" height="2.1" fill="#b6b9c3"/>
<rect x="1621.3" y="768.5" width="9.9" height="2.1" fill="#b6b9c3"/>
<rect x="1632.1" y="768.5" width="9.9" height="2.1" fill="#d3d6dd"/>
<rect x="1642.9" y="767.8" width="9.9" height="2.8" fill="#d3d6dd"/>
<rect x="1653.7" y="766.1" width="9.9" height="4.5" fill="#d3d6dd"/>
<rect x="1664.5" y="764.9" width="9.9" height="5.7" fill="#d3d6dd"/>
<rect x="1675.3" y="764.2" width="9.9" height="6.4" fill="#d3d6dd"/>
<rect x="1686.1" y="764.2" width="9.9" height="6.4" fill="#b6b9c3"/>
<rect x="1696.9" y="765.4" width="9.9" height="5.2" fill="#b6b9c3"/>
<rect x="1707.8" y="765.4" width="9.9" height="5.2" fill="#b6b9c3"/>
<rect x="1718.6" y="765.9" width="9.9" height="4.7" fill="#d3d6dd"/>
<rect x="1729.4" y="765.4" width="9.9" height="5.2" fill="#b6b9c3"/>
<rect x="1740.2" y="765.4" width="9.9" height="5.2" fill="#b6b9c3"/>
<rect x="1751" y="766.1" width="9.9" height="4.5" fill="#b6b9c3"/>
<rect x="1761.8" y="767.8" width="9.9" height="2.8" fill="#b6b9c3"/>
<rect x="1772.6" y="731.9" width="9.9" height="38.7" fill="#d3d6dd"/>
<rect x="1783.4" y="711.5" width="9.9" height="59.1" fill="#d3d6dd"/>
</g>
<g clip-path="url(#cp2)" fill="none" stroke="#80838f" stroke-width="0.9" stroke-linejoin="round">
<polyline points="0,796.4 2.5,795.6 5,794.9 7.5,794.3 10,793.8 12.5,793.5 14.7,793.4 15,793.4 17.5,793.4 20,793.4 22.5,793.4 25,793.4 27.5,793.4 27.8,793.4 30,793.9 32.5,795.2 35,796.5 37.5,797.2 37.6,797.2 40,797.1 42.5,797 45,796.7 47.5,796.4 50,796.1 52.5,795.7 54,795.5 55,795.4 57.5,794.9 60,794.4 62.5,793.9 65,793.4 67.5,793 68.7,792.8 70,792.6 72.5,792.3 75,792.1 77.5,791.9 80,791.8 80.2,791.8 82.5,792.1 85,792.8 87.5,793.6 88.4,793.9 90,794.4 92.5,795.4 95,796.4 97.5,797.4 100,798.3 101.5,798.8 102.5,799.1 105,799.9 107.5,800.6 110,801.3 112.5,802 115,802.5 117.5,802.9 117.8,802.9 120,803.1 122.5,803.4 125,803.7 127.5,803.9 130,804 132.5,804.1 135,804.2 135.8,804.2 137.5,804.1 140,803.8 142.5,803.2 145,802.6 147.5,802 150,801.5 152.2,801.3 152.5,801.3 155,801.2 157.5,801.1 160,801.1 162.5,801 165,801 167.5,800.9 170,800.9 171.8,800.9 172.5,800.9 175,801.1 177.5,801.5 180,801.9 182.5,802.3 185,802.7 187.5,802.9 188.2,802.9 190,802.8 192.5,802.5 195,802 197.5,801.4 200,800.8 201.3,800.5 202.5,800.2 205,799.4 207.5,798.7 210,798.3 210.3,798.3 212.5,798.5 215,799 217.5,799.7 219.3,800 220,800.1 222.5,800.5 225,800.9 227.5,801.3 230,801.6 232.5,801.9 235,802.2 237.5,802.4 240,802.6 242.2,802.6 242.5,802.6 245,802.5 247.5,802.3 250,802 252.5,801.7 255,801.4 257.5,801.1 260,800.9 261.9,800.9 262.5,800.9 265,800.9 267.5,801 270,801.1 272.5,801.1 275,801.2 277.5,801.3 280,801.4 282.5,801.5 285,801.6 287.5,801.7 290,801.7 292.5,801.7 295,801.8 297.5,801.8 300,801.9 302.5,802.3 305,803 307.5,803.5 308.2,803.6 310,803.6 312.5,803.7 315,803.8 317.5,803.9 319.6,803.9 320,803.9 322.5,803.8 325,803.6 327.5,803.3 330,803 332.5,802.8 332.7,802.7 335,802.4 337.5,802.1 340,801.6 342.5,801.2 345,800.8 347.5,800.5 349.1,800.3 350,800.2 352.5,800 355,799.8 357.5,799.7 360,799.5 362.5,799.3 365,799.2 365.5,799.1 367.5,799 370,798.8 372.5,798.5 375,798.3 377.5,798.1 380,797.9 382.5,797.6 385,797.4 387.5,797.2 390,797 392.5,796.8 395,796.7 397.5,796.5 400,796.4 402.5,796.2 405,796 406.4,795.9 407.5,795.7 410,795.2 412.5,794.5 415,793.7 417.5,793 417.8,792.9 420,792.4 422.5,791.7 425,791 427.5,790.4 430,789.8 430.9,789.6 432.5,789.3 435,788.8 437.5,788.3 440,787.8 442.5,787.3 445,787 447.3,786.7 447.5,786.7 450,786.4 452.5,786.2 455,786 457.5,785.9 460,785.7 462.5,785.6 463.7,785.5 465,785.5 467.5,785.4 470,785.3 471.8,785.2 472.5,785.2 475,784.7 477.5,784.1 480,783.6 482.5,783.3 485,783.1 487.5,782.9 490,782.6 492.5,782.4 493.1,782.3 495,782 497.5,781.4 500,780.8 502.5,780.1 505,779.4 507.5,778.7 510,778.1 512.5,777.7 512.8,777.7 515,777.5 517.5,777.2 520,777.1 522.5,776.9 525,776.6 525.9,776.5 527.5,776.3 530,775.8 532.5,775.3 534,775.2 535,775.3 537.5,776 540,776.9 542.2,777.4 542.5,777.4 545,777.5 547.5,777.5 550,777.6 552.5,777.6 555,777.7 555.3,777.7 557.5,777.8 560,778 562.5,778.3 565,778.5 567.5,778.9 568.4,779 570,779.3 572.5,779.8 575,780.4 577.5,781 578.2,781.1 580,781.5 582.5,782 585,782.4 587.5,782.7 588.1,782.8 590,782.9 592.5,783.1 595,783.3 597.5,783.4 600,783.4 602.5,783.1 605,782.7 605.6,782.7 607.5,782.7 610,782.8 612.5,782.9 615,783.1 617.5,783.3 620,783.5 622.5,783.7 625,783.9 625.7,783.9 627.5,784.1 630,784.3 632.5,784.5 635,784.7 637.5,784.9 640,785.1 642.5,785.2 643.3,785.2 645,785.1 647.5,785 650,784.8 652.5,784.5 655,784.4 655.8,784.4 657.5,784.4 660,784.5 662.5,784.7 665,785 667.5,785.2 670,785.6 670.9,785.7 672.5,786 675,786.7 677.5,787.5 680,788.4 682.5,789.2 683.4,789.4 685,789.8 687.5,790.3 690,790.7 692.5,791.2 695,791.6 696,791.7 697.5,791.9 700,792.2 702.5,792.5 705,792.8 707.5,793.1 710,793.3 711,793.5 712.5,793.6 715,793.9 717.5,794.1 720,794.3 722.5,794.6 725,794.8 727.5,795.1 728.6,795.2 730,795.4 732.5,795.8 735,796.2 737.5,796.6 740,796.9 741.1,797 742.5,797.1 745,797.2 747.5,797.4 750,797.5 751.2,797.5 752.5,797.4 755,796.7 757.5,795.6 760,794.4 761.2,794 762.5,793.5 765,792.5 767.5,791.4 770,790.6 771.3,790.2 772.5,789.9 775,789.3 777.5,788.9 780,788.5 782.5,788.1 785,787.7 787.5,787.3 790,786.9 792.5,786.3 793.8,785.9 795,785.5 797.5,784.4 800,783.1 802.5,781.9 803.9,781.4 805,781.1 807.5,780.6 810,780.1 812.5,779.7 815,779.2 816.4,778.9 817.5,778.6 820,777.7 822.5,776.6 825,775.8 827.5,775.4 827.7,775.4 830,775.4 832.5,775.4 835,775.4 837.5,775.4 837.8,775.4 840,775.7 842.5,776.5 845,777.3 846.5,777.6 847.5,777.7 850,778 852.5,778.2 855,778.4 857.5,778.5 860,778.6 861.6,778.4 862.5,778.4 865,778.4 867.5,778.4 870,778.4 872.5,778.4 875,778.4 877.5,778.4 880,778.4 882.5,778.5 885,778.5 887.5,778.5 890,778.6 891.4,778.6 893.9,773.2 896.4,768.1 898.9,763.5 899.3,762.8 901.4,759.4 903.9,755.6 906.4,752.1 908.9,748.9 911.1,746.1 911.4,745.7 913.9,742.8 916.4,740.1 918.9,737.5 921.4,734.9 922.8,733.4 923.9,732.3 926.4,729.6 928.9,727 931.4,724.5 933.9,722.2 934.6,721.6 936.4,720.1 938.9,718.1 941.4,716.2 943.9,714.9 944.5,714.7 946.4,714.1 948.9,713.4 951.4,712.9 953.9,712.5 956.2,712.4 956.4,712.4 958.9,713 961.4,714.2 963.9,715.5 966.1,716.3 966.4,716.4 968.9,716.8 971.4,717.1 973.9,717.4 976.4,717.8 977.8,718.1 978.9,718.4 981.4,719.3 983.9,720.5 986.4,721.9 988.9,723.2 989.6,723.6 991.4,724.5 993.9,725.8 996.4,727.1 998.9,728.5 1001.4,729.8 1003.9,731.3 1006.4,732.7 1008.9,734.2 1011.2,735.3 1011.4,735.4 1013.9,736.6 1016.4,737.8 1018.9,738.8 1021.4,739.7 1023,740.3 1023.9,740.5 1026.4,741.2 1028.9,741.8 1031.4,742.3 1032.8,742.6 1033.9,742.8 1036.4,743.4 1038.9,743.8 1041.4,744.1 1042.7,744.2 1043.9,744.2 1046.4,744 1048.9,743.9 1051.4,743.7 1053.9,743.6 1054.4,743.6 1056.4,743.6 1058.9,743.8 1061.4,744.1 1063.9,744.4 1066.2,744.8 1066.4,744.8 1068.9,745.2 1071.4,745.8 1073.9,746.5 1076,747.1 1076.4,747.3 1078.9,748.2 1081.4,749.2 1083.9,750.4 1085.9,751.5 1086.4,751.8 1088.9,753.3 1091.4,755.1 1093.9,756.8 1095.7,757.9 1096.4,758.3 1098.9,759.6 1101.4,760.8 1103.9,762 1106.4,763.2 1107.5,763.9 1108.9,764.7 1111.4,766.3 1113.9,768 1116.4,769.7 1118.9,771.4 1119.2,771.7 1121.4,773.2 1123.9,775 1126.4,776.8 1128.9,778.5 1129.1,778.6 1131.4,780.1 1133.9,781.6 1136.4,783.1 1138.9,784.5 1141.4,785.6 1143.9,786.7 1146.4,787.7 1148.9,788.7 1150.7,789.4 1151.4,789.6 1153.9,790.7 1156.4,791.7 1158.9,792.5 1161.4,793.1 1162.5,793.3 1163.9,793.4 1166.4,793.6 1168.9,793.8 1171.4,793.9 1172.3,793.9 1173.9,793.8 1176.4,793.5 1178.9,793.1 1181.4,792.7 1183.9,792.3 1184.1,792.3 1186.4,792 1188.9,791.7 1191.4,791.4 1193.9,791.1 1196.4,791 1197.8,790.9 1198.9,790.9 1200,790.9 1201.4,790.9 1203.9,790.8 1206.4,790.6 1208.9,790.4 1211.4,790 1213.9,789.6 1215.1,789.4 1216.4,789.1 1218.9,788.1 1221.4,786.8 1223.9,785.6 1225.1,785.2 1226.4,784.8 1228.9,784 1231.4,783.3 1233.9,782.6 1236.4,782 1238.9,781.4 1241.4,780.9 1243.9,780.4 1245.2,780.1 1246.4,779.9 1248.9,779.5 1251.4,779 1253.9,778.6 1256.4,778.4 1257.7,778.4 1258.9,778.4 1261.4,778.4 1263.9,778.4 1266.4,778.4 1268.9,778.4 1271.4,778.4 1272.8,778.4 1273.9,778.4 1276.4,778.1 1278.9,777.8 1281.4,777.4 1283.9,777.2 1285.3,777.1 1286.4,777.1 1288.9,777.2 1291.4,777.3 1293.9,777.4 1296.4,777.6 1298.9,777.6 1300.4,777.6 1301.4,777.6 1303.9,777.6 1306.4,777.6 1308.9,777.6 1311.4,777.6 1313.9,777.6 1316.4,777.6 1317.9,777.6 1318.9,777.6 1321.4,777.7 1323.9,777.8 1326.4,777.9 1328.9,778 1331.4,778.1 1333.9,778.3 1335.5,778.4 1336.4,778.5 1338.9,778.7 1341.4,779.1 1343.9,779.5 1346.4,780 1348.9,780.5 1351.4,781 1353.1,781.4 1353.9,781.6 1356.4,782.3 1358.9,783.1 1361.4,783.9 1363.9,784.7 1365.6,785.2 1366.4,785.4 1368.9,786.1 1371.4,786.9 1373.9,787.5 1376.4,788 1378.2,788.2 1378.9,788.2 1381.4,788.3 1383.9,788.4 1386.4,788.5 1388.9,788.5 1391.4,788.6 1393.9,788.6 1395.7,788.7 1396.4,788.7 1398.9,788.8 1401.4,788.8 1403.9,788.9 1406.4,789 1408.9,789 1411.4,789.1 1413.9,789.2 1416.4,789.3 1418.3,789.4 1418.9,789.5 1421.4,789.7 1423.9,790 1426.4,790.4 1428.9,790.8 1431.4,791.2 1433.4,791.4 1433.9,791.5 1436.4,791.8 1438.9,792.2 1441.4,792.5 1443.9,792.8 1446.4,793 1448.9,793.2 1451,793.2 1451.4,793.2 1453.9,793.2 1456.4,793.2 1458.9,793.1 1461.4,793.1 1463.9,793 1466,793 1466.4,792.9 1468.9,792.8 1471.4,792.5 1473.9,792.2 1476.4,791.8 1478.6,791.4 1478.9,791.4 1481.4,790.8 1483.9,790.1 1486.4,789.3 1488.9,788.4 1491.4,787.6 1493.6,786.9 1493.9,786.9 1496.4,786.2 1498.9,785.6 1501.4,785.1 1503.9,784.5 1506.4,784 1508.7,783.4 1508.9,783.4 1511.4,782.6 1513.9,781.8 1516.4,781.2 1517.5,781.2 1518.9,781.2 1521.4,781.4 1523.9,781.6 1526.4,781.8 1528.8,781.9 1528.9,781.9 1531.4,781.9 1533.9,781.7 1536.4,781.5 1538.9,781.3 1541.4,780.9 1543.9,780.6 1546.4,780.2 1548.9,779.8 1551.3,779.4 1551.4,779.4 1553.9,778.9 1556.4,778.2 1558.9,777.5 1561.4,776.9 1563.9,776.2 1566.4,775.5 1568.9,774.9 1571.4,774.6 1573.9,774.5 1576.4,774.4 1578.9,774.3 1581.4,774.3 1583.9,774.2 1586.4,774.2 1588.9,774.1 1591.4,774.1 1591.5,774.1 1593.9,774.3 1596.4,774.8 1598.9,775.2 1600,775.3 1601.4,775.2 1603.9,775.2 1606.4,775.1 1608.9,775.1 1611.4,774.9 1613.9,774.8 1616.4,774.7 1618.9,774.6 1621.4,774.4 1623.4,774.3 1623.9,774.3 1626.4,774.2 1628.9,774.1 1631.4,773.9 1633.9,773.8 1636.4,773.6 1638.9,773.4 1641.4,773.2 1642.2,773.1 1643.9,772.9 1646.4,772.4 1648.9,771.6 1651.4,770.8 1653.9,769.9 1656.4,769.1 1658.6,768.5 1658.9,768.4 1661.4,767.7 1663.9,767 1666.4,766.3 1668.9,765.7 1670.3,765.4 1671.4,765.2 1673.9,764.6 1676.4,764.1 1678.9,763.6 1681.4,763.2 1683.9,762.9 1686.4,762.6 1686.7,762.6 1688.9,762.5 1691.4,762.3 1693.9,762.2 1696.4,762.2 1698.9,762.1 1701.4,762 1703.1,761.9 1703.9,761.9 1706.4,761.7 1708.9,761.6 1711.4,761.5 1713.9,761.3 1716.4,761.2 1718.9,761 1721.4,760.8 1721.9,760.7 1723.9,760.5 1726.4,760.1 1728.9,759.7 1731.4,759.2 1733.9,758.6 1736.4,758.2 1738.9,757.7 1741.4,757.4 1743,757.2 1743.9,757.1 1746.4,756.9 1748.9,756.7 1751.4,756.6 1753.9,756.5 1754.7,756.5 1756.4,756.5 1758.9,756.5 1761.4,756.5 1763.9,756.6 1766.4,756.7 1766.9,756.7 1769.4,745.9 1771.9,735.4 1772.3,733.7 1774.4,725 1776.9,715 1778.1,710.5 1779.4,705.9 1781.9,697.3 1784.4,689.2 1786.9,681.7 1788,678.7"/>
<polyline points="0,798.8 2.5,798.4 5,798.1 7.5,797.8 10,797.5 12.5,797.2 15,796.9 17.5,796.6 20,796.4 22.5,796.3 25,796.1 27.5,796 30,795.9 32.5,795.9 32.7,795.9 35,795.9 37.5,795.9 40,795.9 42.5,795.9 45,796 47.5,796 50,796 52.5,796 54,796 55,796 57.5,796 60,795.9 62.5,795.8 65,795.7 67.5,795.6 70,795.4 72.5,795.3 75,795.2 77.5,795.2 80,795.1 81.8,795.1 82.5,795.1 85,795.1 87.5,795.2 90,795.4 92.5,795.5 95,795.7 97.5,795.9 98.2,795.9 100,796 102.5,796.3 105,796.6 107.5,796.9 110,797.2 112.5,797.5 115,797.9 117.5,798.2 120,798.5 122.5,798.8 122.7,798.8 125,799 127.5,799.3 130,799.5 132.5,799.8 135,800 137.5,800.2 140,800.4 142.5,800.6 145,800.7 147.3,800.8 147.5,800.8 150,800.9 152.5,800.9 155,801 157.5,801 160,801.1 162.5,801.1 165,801.2 167.5,801.2 170,801.2 172.5,801.3 175,801.3 177.5,801.3 180,801.3 182.5,801.3 185,801.3 187.5,801.2 190,801.2 192.5,801.2 195,801.1 197.5,801.1 200,801 202.5,801 205,801 207.5,800.9 210,800.9 212.5,800.9 212.8,800.9 215,800.9 217.5,800.9 220,801 222.5,801 225,801.1 227.5,801.2 230,801.3 232.5,801.4 235,801.4 237.5,801.5 240,801.5 242.5,801.6 245,801.6 245.5,801.6 247.5,801.6 250,801.6 252.5,801.6 255,801.6 257.5,801.6 260,801.6 262.5,801.6 265,801.6 267.5,801.6 270,801.6 272.5,801.6 275,801.5 277.5,801.5 280,801.5 282.5,801.5 285,801.5 287.5,801.5 290,801.4 292.5,801.3 295,801.2 297.5,801.1 300,801.1 302.5,801.3 305,801.6 307.5,802.2 310,802.7 312.5,803.2 315,803.5 316.4,803.6 317.5,803.5 320,803.5 322.5,803.4 325,803.3 327.5,803.1 330,802.9 332.5,802.7 332.7,802.7 335,802.5 337.5,802.3 340,802 342.5,801.7 345,801.4 347.5,801.2 349.1,801.1 350,801.1 352.5,801 355,800.9 357.5,800.9 360,800.9 362.5,800.8 365,800.8 367.5,800.7 370,800.7 372.5,800.6 373.6,800.6 375,800.6 377.5,800.5 380,800.3 382.5,800.2 385,800.1 387.5,799.9 390,799.7 392.5,799.6 395,799.4 397.5,799.2 398.2,799.1 400,799 402.5,798.8 405,798.6 407.5,798.3 410,798.1 412.5,797.8 415,797.5 417.5,797.3 420,797 422.5,796.7 422.7,796.7 425,796.4 427.5,796.1 430,795.8 432.5,795.4 435,795.1 437.5,794.7 440,794.4 442.5,794 445,793.7 447.3,793.4 447.5,793.4 450,793.1 452.5,792.8 455,792.5 457.5,792.2 460,791.9 462.5,791.6 465,791.3 467.5,791 470,790.7 471.8,790.5 472.5,790.4 475,790.1 477.5,789.7 480,789.4 482.5,789.1 485,788.8 487.5,788.4 490,788.1 492.5,787.7 495,787.4 496.4,787.2 497.5,787 500,786.7 502.5,786.3 505,785.9 507.5,785.5 510,785.1 512.5,784.7 515,784.3 517.5,783.9 520,783.5 520.9,783.4 522.5,783.2 525,782.9 527.5,782.5 530,782.2 532.5,781.9 535,781.6 537.3,781.5 537.5,781.4 540,781.3 542.5,781.1 545,780.9 547.5,780.8 550,780.7 552.5,780.5 555,780.4 557.5,780.4 560,780.3 561.9,780.3 562.5,780.3 565,780.3 567.5,780.4 570,780.4 572.5,780.5 575,780.6 577.5,780.6 578.2,780.6 580,780.7 582.5,780.8 585,780.9 587.5,780.9 590,781 592.5,781.1 595,781.3 597.5,781.4 600,781.5 602.5,781.6 605,781.7 607.5,781.8 610,781.9 610.6,781.9 612.5,782 615,782.2 617.5,782.3 620,782.5 622.5,782.7 625,782.8 627.5,783 630,783.1 630.7,783.2 632.5,783.2 635,783.4 637.5,783.5 640,783.6 642.5,783.7 645,783.8 647.5,783.9 650,783.9 650.8,783.9 652.5,783.9 655,783.9 657.5,783.9 660,783.9 662.5,783.9 665,783.9 667.5,783.9 670,783.9 670.9,783.9 672.5,783.9 675,784.1 677.5,784.4 680,784.7 682.5,785.1 685,785.5 687.5,785.9 690,786.3 691,786.4 692.5,786.6 695,786.9 697.5,787.3 700,787.6 702.5,787.9 705,788.2 707.5,788.5 710,788.8 711,788.9 712.5,789.1 715,789.4 717.5,789.7 720,790 722.5,790.3 725,790.6 727.5,790.8 728.6,790.9 730,791.1 732.5,791.4 735,791.7 737.5,792.1 740,792.4 742.5,792.6 745,792.7 746.2,792.7 747.5,792.7 750,792.7 752.5,792.7 755,792.7 757.5,792.7 760,792.7 761.2,792.7 762.5,792.7 765,792.6 767.5,792.4 770,792.1 772.5,791.8 775,791.6 776.3,791.4 777.5,791.3 780,791.1 782.5,790.9 785,790.7 787.5,790.5 790,790.3 792.5,790.1 795,789.8 796.4,789.7 797.5,789.6 800,789.2 802.5,788.9 805,788.5 807.5,788 810,787.6 812.5,787.1 815,786.7 816.4,786.4 817.5,786.2 820,785.7 822.5,785.1 825,784.6 827.5,784.1 830,783.6 831.5,783.4 832.5,783.3 835,783 837.5,782.8 840,782.6 842.5,782.4 845,782.2 847.5,782 850,781.8 852.5,781.6 854.1,781.4 855,781.3 857.5,780.8 860,780.5 862.5,780.4 865,780.3 867.5,780.2 870,780.1 872.5,780.1 875,780 877.5,779.9 880,779.9 882.5,779.9 885,779.8 887.5,779.8 890,779.8 891.4,779.8 893.9,779.2 896.4,778.4 898.9,777.5 901.2,776.6 901.4,776.5 903.9,775.3 906.4,774 908.9,772.4 911.4,770.8 913,769.7 913.9,769.1 916.4,767.4 918.9,765.5 921.4,763.5 923.9,761.6 924.8,760.9 926.4,759.7 928.9,757.8 931.4,755.9 933.9,753.9 936.4,752.1 938.6,750.4 938.9,750.2 941.4,748.4 943.9,746.5 946.4,744.8 948.9,743.1 950.3,742.3 951.4,741.6 953.9,740.2 956.4,738.9 958.9,737.7 961.4,736.6 962.1,736.3 963.9,735.6 966.4,734.7 968.9,733.8 971.4,733 973.9,732.4 976.4,731.9 978.9,731.4 981.4,731 983.9,730.7 985.7,730.4 986.4,730.4 988.9,730.1 991.4,729.8 993.9,729.6 996.4,729.5 997.5,729.5 998.9,729.5 1001.4,729.6 1003.9,729.8 1006.4,730.1 1008.9,730.4 1009.3,730.4 1011.4,730.7 1013.9,731.2 1016.4,731.7 1018.9,732.2 1021.4,732.7 1023,733 1023.9,733.2 1026.4,733.6 1028.9,734 1031.4,734.5 1033.9,734.9 1036.4,735.3 1036.8,735.4 1038.9,735.7 1041.4,736 1043.9,736.3 1046.4,736.7 1048.5,736.9 1048.9,737 1051.4,737.3 1053.9,737.5 1056.4,737.8 1058.9,738.1 1061.4,738.4 1062.3,738.5 1063.9,738.7 1066.4,739.1 1068.9,739.5 1071.4,739.9 1073.9,740.2 1074.1,740.3 1076.4,740.6 1078.9,740.9 1081.4,741.2 1083.9,741.6 1086.4,742.1 1088.9,742.7 1091.4,743.4 1093.9,744.1 1095.7,744.6 1096.4,744.8 1098.9,745.6 1101.4,746.4 1103.9,747.2 1106.4,748.1 1107.5,748.5 1108.9,749 1111.4,749.9 1113.9,750.9 1116.4,751.8 1118.9,752.9 1119.2,753 1121.4,754 1123.9,755.2 1126.4,756.5 1128.9,757.8 1131,758.9 1131.4,759.1 1133.9,760.4 1136.4,761.6 1138.9,762.9 1141.4,764.1 1142.8,764.8 1143.9,765.4 1146.4,766.6 1148.9,767.9 1151.4,769.2 1153.9,770.4 1154.6,770.7 1156.4,771.5 1158.9,772.6 1161.4,773.7 1163.9,774.7 1166.4,775.6 1168.9,776.5 1171.4,777.4 1173.9,778.3 1176.4,779.1 1178.2,779.6 1178.9,779.7 1181.4,780.3 1183.9,780.9 1186.4,781.4 1188.9,781.9 1190,782.1 1191.4,782.4 1193.9,783 1196.4,783.4 1197.8,783.5 1198.9,783.3 1200,783.2 1201.4,783.2 1203.9,783.5 1206.4,783.9 1208.9,784.4 1211.4,784.9 1213.9,785.1 1215.1,785.2 1216.4,785.2 1218.9,785.1 1221.4,785 1223.9,785 1226.4,784.8 1228.9,784.7 1230.1,784.7 1231.4,784.6 1233.9,784.5 1236.4,784.3 1238.9,784.1 1241.4,783.9 1243.9,783.7 1246.4,783.5 1248.9,783.3 1250.2,783.2 1251.4,783.1 1253.9,782.9 1256.4,782.7 1258.9,782.5 1261.4,782.2 1263.9,782 1266.4,781.8 1268.9,781.6 1271.4,781.4 1273.9,781.3 1275.3,781.2 1276.4,781.1 1278.9,780.9 1281.4,780.7 1283.9,780.6 1286.4,780.4 1288.9,780.2 1291.4,780.1 1293.9,780 1296.4,779.8 1298.9,779.7 1300.4,779.7 1301.4,779.6 1303.9,779.5 1306.4,779.4 1308.9,779.3 1311.4,779.2 1313.9,779.1 1316.4,779 1318.9,779 1321.4,778.9 1323.9,778.9 1325.5,778.9 1326.4,778.9 1328.9,778.9 1331.4,778.9 1333.9,778.9 1336.4,778.9 1338.9,778.9 1340.5,778.9 1341.4,778.9 1343.9,779 1346.4,779.2 1348.9,779.4 1351.4,779.7 1353.9,780 1355.6,780.2 1356.4,780.2 1358.9,780.5 1361.4,780.8 1363.9,781.2 1366.4,781.5 1368.9,781.8 1371.4,782.2 1373.9,782.5 1375.7,782.7 1376.4,782.7 1378.9,783 1381.4,783.2 1383.9,783.4 1386.4,783.7 1388.9,783.9 1391.4,784.1 1393.9,784.3 1395.7,784.4 1396.4,784.5 1398.9,784.7 1401.4,784.9 1403.9,785 1406.4,785.2 1408.9,785.4 1411.4,785.6 1413.9,785.8 1415.8,785.9 1416.4,786 1418.9,786.2 1421.4,786.4 1423.9,786.6 1426.4,786.8 1428.9,787.1 1431.4,787.3 1433.9,787.5 1435.9,787.7 1436.4,787.7 1438.9,787.9 1441.4,788.2 1443.9,788.4 1446.4,788.6 1448.9,788.8 1451,788.9 1451.4,789 1453.9,789.2 1456.4,789.3 1458.9,789.5 1461.4,789.7 1463.9,789.8 1466,789.9 1466.4,790 1468.9,790.1 1471.4,790.2 1473.9,790.3 1476.4,790.4 1478.9,790.4 1481.1,790.4 1481.4,790.4 1483.9,790.4 1486.4,790.2 1488.9,790.1 1491.4,789.8 1493.9,789.6 1496.1,789.4 1496.4,789.4 1498.9,789.2 1501.4,789 1503.9,788.8 1506.4,788.6 1508.9,788.4 1511.4,788.2 1513.9,787.9 1516.2,787.7 1516.4,787.7 1518.9,787.4 1521.4,787.1 1523.9,786.8 1526.4,786.5 1528.9,786.1 1531.4,785.8 1533.9,785.5 1536.3,785.2 1536.4,785.2 1538.9,784.8 1541.4,784.5 1543.9,784.2 1546.4,783.9 1548.9,783.6 1551.4,783.3 1553.9,783 1556.4,782.7 1558.9,782.3 1561.4,782 1563.9,781.7 1566.4,781.4 1568.9,781.1 1571.4,780.7 1573.9,780.4 1576.4,780.2 1578.9,779.9 1581.4,779.6 1583.9,779.3 1586.4,779 1588.9,778.8 1591.4,778.5 1593.9,778.3 1596.4,778.1 1598.9,777.9 1599,777.9 1601.4,777.7 1603.9,777.6 1606.4,777.5 1608.9,777.3 1611.4,777.2 1613.9,777.1 1616.4,777 1618.9,776.9 1621.4,776.8 1623.4,776.7 1623.9,776.6 1626.4,776.5 1628.9,776.4 1631.4,776.3 1633.9,776.2 1636.4,776.1 1638.9,776 1641.4,775.9 1643.9,775.7 1646.4,775.5 1646.9,775.5 1648.9,775.3 1651.4,774.9 1653.9,774.5 1656.4,774 1658.9,773.5 1661.4,773 1663.9,772.4 1666.4,771.9 1668.9,771.5 1670.3,771.3 1671.4,771.1 1673.9,770.8 1676.4,770.4 1678.9,770.1 1681.4,769.8 1683.9,769.5 1686.4,769.2 1688.9,768.9 1691.4,768.7 1693.8,768.5 1693.9,768.4 1696.4,768.2 1698.9,768 1701.4,767.8 1703.9,767.7 1706.4,767.5 1708.9,767.3 1711.4,767.1 1713.9,766.9 1716.4,766.7 1717.2,766.6 1718.9,766.4 1721.4,766.1 1723.9,765.7 1726.4,765.3 1728.9,764.9 1731.4,764.4 1733.9,764 1736.4,763.6 1738.9,763.3 1740.6,763.1 1741.4,763 1743.9,762.7 1746.4,762.4 1748.9,762.2 1751.4,761.9 1753.9,761.7 1756.4,761.5 1758.9,761.3 1761.4,761.1 1763.9,760.9 1766.4,760.7 1766.9,760.7 1769.4,758.7 1771.9,756.4 1773.5,754.8 1774.4,753.9 1776.9,751 1779.4,748 1780.5,746.6 1781.9,744.9 1784.4,741.7 1786.9,738.3 1788,736.8"/>
</g>
<text class="ax" x="1795" y="17.1">4,450.0</text>
<text class="ax" x="1795" y="60.2">4,440.0</text>
<text class="ax" x="1795" y="103.9">4,430.0</text>
<text class="ax" x="1795" y="148">4,420.0</text>
<text class="ax" x="1795" y="182.8">4,412.0</text>
<text class="ax" x="1795" y="218.9">4,404.0</text>
<text class="ax" x="1795" y="254.3">4,396.0</text>
<text class="ax" x="1795" y="290.2">4,388.0</text>
<text class="ax" x="1795" y="326">4,380.0</text>
<text class="ax" x="1795" y="360.8">4,372.0</text>
<text class="ax" x="1795" y="394.6">4,364.5</text>
<text class="ax" x="1795" y="427.9">4,357.0</text>
<text class="ax" x="1795" y="455">4,351.0</text>
<text class="ax" x="1795" y="481.7">4,345.0</text>
<text class="ax" x="1795" y="508.4">4,339.0</text>
<text class="ax" x="1795" y="536">4,333.0</text>
<text class="ax" x="1795" y="558.3">4,328.0</text>
<text class="ax" x="1795" y="580.7">4,323.0</text>
<text class="ax" x="1795" y="603.4">4,318.0</text>
<text class="ax" x="1795" y="626.1">4,313.0</text>
<text class="ax" x="1795" y="649.4">4,308.0</text>
<text class="ax" x="1795" y="680.4">16.0</text>
<text class="ax" x="1795" y="703.8">12.0</text>
<text class="ax" x="1795" y="727.3">8.0</text>
<text class="ax" x="1795" y="750.3">4.0</text>
<text class="ax" x="1795" y="774.2">0.0</text>
<text class="ax" x="1795" y="796.8">−4.0</text>
<rect x="1789.5" y="62.6" width="42" height="11.9" fill="#fff" stroke="#50535e" stroke-width="0.9"/>
<path d="M1788 68.7 h-2.6 v2.3 h2.6" fill="none" stroke="#50535e" stroke-width="0.9"/>
<text x="1795" y="71.9" font-size="10" fill="#787b86">4,437.5</text>
<text class="tm" x="27.2" y="832.3">31</text>
<text class="tm" x="92" y="832.3">07:00</text>
<text class="tm" x="156.8" y="832.3">07:30</text>
<text class="tm" x="221.7" y="832.3">08:00</text>
<text class="tm" x="286.5" y="832.3">08:30</text>
<text class="tm" x="351.3" y="832.3">09:00</text>
<text class="tm" x="416.1" y="832.3">09:30</text>
<text class="tm" x="481" y="832.3">10:00</text>
<text class="tm" x="545.8" y="832.3">10:30</text>
<text class="tm" x="610.6" y="832.3">11:00</text>
<text class="tm" x="675.5" y="832.3">11:30</text>
<text class="tm" x="740.3" y="832.3">12:00</text>
<text class="tm" x="805.1" y="832.3">12:30</text>
<text class="tm" x="967.2" y="832.3">07:00</text>
<text class="tm" x="1032" y="832.3">07:30</text>
<text class="tm" x="1096.9" y="832.3">08:00</text>
<text class="tm" x="1161.7" y="832.3">08:30</text>
<text class="tm" x="1226.5" y="832.3">09:00</text>
<text class="tm" x="1291.4" y="832.3">09:30</text>
<text class="tm" x="1356.2" y="832.3">10:00</text>
<text class="tm" x="1421" y="832.3">10:30</text>
<text class="tm" x="1485.8" y="832.3">11:00</text>
<text class="tm" x="1550.7" y="832.3">11:30</text>
<text class="tm" x="1615.5" y="832.3">12:00</text>
<text class="tm" x="1680.3" y="832.3">12:30</text>
<text x="902.4" y="832.3" font-size="10.4" font-weight="bold" fill="#131722" text-anchor="middle">2026</text>
<text x="1777.6" y="832.3" font-size="10" fill="#2a2e39" text-anchor="middle">5</text>
<g fill="none" stroke="#2a2e39" stroke-width="1.1"><path d="M1807.2 828.9 L1809.9 824.3 H1815.2 L1817.9 828.9 L1815.2 833.5 H1809.9 Z"/><circle cx="1812.5" cy="828.9" r="1.9"/></g>
<g transform="translate(7,793.6) scale(0.63)"><g fill="#fff" stroke="#fff" stroke-width="4" stroke-linejoin="round"><path d="M14 22H7V11H0V4h14v18z"/><path d="M28 22h-8l7.5-18h8L28 22z"/><circle cx="20" cy="8" r="4"/></g><g fill="#111"><path d="M14 22H7V11H0V4h14v18z"/><path d="M28 22h-8l7.5-18h8L28 22z"/><circle cx="20" cy="8" r="4"/></g></g>
<text x="5.5" y="14" font-size="12" fill="#131722" textLength="94.4" lengthAdjust="spacingAndGlyphs">GC1! · 5 · COMEX</text>
<circle cx="113.3" cy="8.9" r="6.5" fill="#f0f0f1"/><rect x="109.4" y="7.8" width="7.4" height="2.4" rx="1.2" fill="#8a8c93"/>
<text x="126.6" y="13.4" font-size="10.2" fill="#131722">O</text>
<text x="134.5" y="13.4" font-size="10.2" fill="#6a6d78" textLength="35.6" lengthAdjust="spacing">4,868.8</text>
<text x="175.8" y="13.4" font-size="10.2" fill="#131722">H</text>
<text x="183.9" y="13.4" font-size="10.2" fill="#6a6d78" textLength="35.1" lengthAdjust="spacing">4,872.0</text>
<text x="224.3" y="13.4" font-size="10.2" fill="#131722">L</text>
<text x="230.3" y="13.4" font-size="10.2" fill="#6a6d78" textLength="34.8" lengthAdjust="spacing">4,858.7</text>
<text x="270.9" y="13.4" font-size="10.2" fill="#131722">C</text>
<text x="278.6" y="13.4" font-size="10.2" fill="#6a6d78" textLength="35.1" lengthAdjust="spacing">4,864.4</text>
<text x="319.4" y="13.4" font-size="10.2" fill="#6a6d78" textLength="65.6" lengthAdjust="spacing">−4.5 (−0.09%)</text>
<rect x="4.5" y="20.5" width="24" height="15.8" rx="2" fill="#fff" stroke="#d6d6d9" stroke-width="1"/>
<path d="M10 27.5 L12.8 30.2 L15.6 27.5" fill="none" stroke="#2a2e39" stroke-width="1.1"/>
<text x="19.5" y="31.2" font-size="10.3" fill="#2a2e39">3</text>
<rect x="4.5" y="666.7" width="21.2" height="15.8" rx="2" fill="#fff" stroke="#d6d6d9" stroke-width="1"/>
<path d="M12.4 673.4 L15.5 676 L18.6 673.4" fill="none" stroke="#2a2e39" stroke-width="1.05"/>
<circle cx="44.9" cy="674.4" r="6.8" fill="#ece4ff"/>
<g fill="none" stroke="#5b21f0" stroke-width="1.3" stroke-linecap="round"><path d="M41.4 673.2 A3.7 3.7 0 0 1 48.3 672.6"/><path d="M48.4 675.6 A3.7 3.7 0 0 1 41.5 676.2"/></g>
<path d="M49.9 671.6 L49 674.3 L46.9 672.6 Z" fill="#5b21f0"/><path d="M39.9 677.2 L40.8 674.5 L42.9 676.2 Z" fill="#5b21f0"/>
</svg></body></html>
